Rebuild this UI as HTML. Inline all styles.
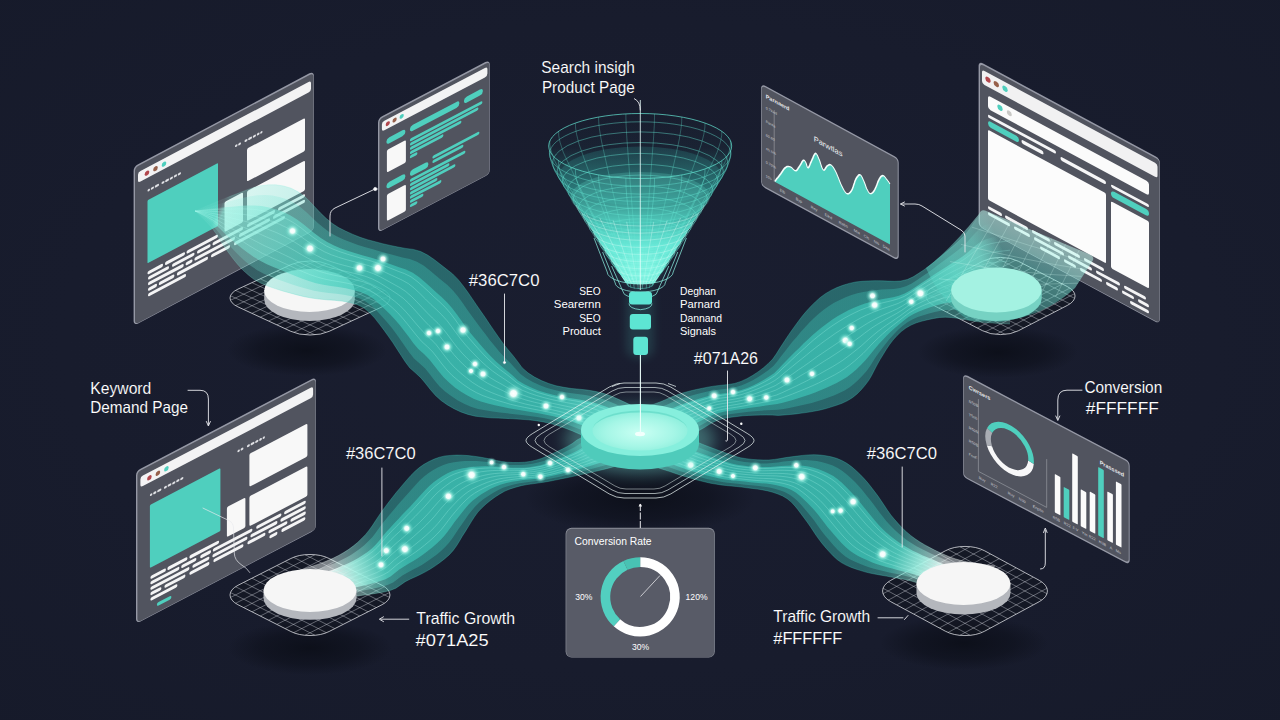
<!DOCTYPE html>
<html lang="en"><head><meta charset="utf-8"><title>Search insight funnel</title>
<style>
html,body{margin:0;padding:0;background:#181c2d;}
body{width:1280px;height:720px;overflow:hidden;font-family:"Liberation Sans",sans-serif;}
svg{display:block;}
text{font-family:"Liberation Sans",sans-serif;fill:#fff;}
.lb text{stroke:#181c2d;stroke-width:0.1px;}
.lb text.sm{stroke:none;}
</style></head><body>
<svg width="1280" height="720" viewBox="0 0 1280 720">
<defs>
<radialGradient id="vig" cx="50%" cy="48%" r="75%">
<stop offset="0" stop-color="#1a1e30"/><stop offset="0.6" stop-color="#181c2d"/><stop offset="1" stop-color="#161a2a"/>
</radialGradient>
<radialGradient id="shadow"><stop offset="0" stop-color="#0c0f19" stop-opacity="0.95"/><stop offset="0.6" stop-color="#0d101b" stop-opacity="0.6"/><stop offset="1" stop-color="#0d101b" stop-opacity="0"/></radialGradient>
<radialGradient id="dot"><stop offset="0" stop-color="#ffffff"/><stop offset="0.3" stop-color="#f6fffd" stop-opacity="0.97"/><stop offset="0.5" stop-color="#b9fbee" stop-opacity="0.6"/><stop offset="0.75" stop-color="#8df3e2" stop-opacity="0.22"/><stop offset="1" stop-color="#7ff0de" stop-opacity="0"/></radialGradient>
<radialGradient id="dish" cx="50%" cy="55%" r="60%"><stop offset="0" stop-color="#c9fff3"/><stop offset="0.6" stop-color="#a5f6e6"/><stop offset="1" stop-color="#84ecd9"/></radialGradient>
<linearGradient id="funnelfill" x1="0" y1="112" x2="0" y2="290" gradientUnits="userSpaceOnUse">
<stop offset="0" stop-color="#2fb9ab" stop-opacity="0"/><stop offset="0.2" stop-color="#2fb9ab" stop-opacity="0.04"/><stop offset="0.3" stop-color="#33c0b0" stop-opacity="0.2"/><stop offset="0.42" stop-color="#38c6b6" stop-opacity="0.42"/><stop offset="0.52" stop-color="#40cfbe" stop-opacity="0.62"/><stop offset="0.62" stop-color="#52dfcd" stop-opacity="0.85"/><stop offset="0.75" stop-color="#6cefdd" stop-opacity="0.97"/><stop offset="1" stop-color="#8cf9e8" stop-opacity="1"/>
</linearGradient>
<clipPath id="gridclip"><rect x="-1" y="-1" width="2" height="2" rx="0.42"/></clipPath>
<filter id="blur2" x="-20%" y="-20%" width="140%" height="140%"><feGaussianBlur stdDeviation="2"/></filter>
<filter id="blur4" x="-30%" y="-30%" width="160%" height="160%"><feGaussianBlur stdDeviation="4"/></filter>
<filter id="blur8" x="-40%" y="-40%" width="180%" height="180%"><feGaussianBlur stdDeviation="8"/></filter>
</defs>
<rect width="1280" height="720" fill="url(#vig)"/>
<ellipse cx="307" cy="350" rx="80" ry="26" fill="url(#shadow)"/>
<ellipse cx="998" cy="352" rx="80" ry="26" fill="url(#shadow)"/>
<ellipse cx="310" cy="648" rx="82" ry="27" fill="url(#shadow)"/>
<ellipse cx="964" cy="643" rx="84" ry="27" fill="url(#shadow)"/>
<ellipse cx="640" cy="498" rx="115" ry="36" fill="url(#shadow)"/>
<g transform="matrix(1 -0.5300 0 1 135 167.5)"><rect x="-1.4" y="-1.7" width="180.3" height="159.3" fill="#9598a5" rx="4.5"/><rect x="0" y="0" width="178.5" height="157" fill="#51545f" rx="3.5"/><rect x="3" y="6.5" width="173" height="10.5" fill="#f3f3f4" rx="2.5"/><circle cx="12" cy="12" r="2.3" fill="#b2474d"/><circle cx="20.5" cy="12" r="2.3" fill="#96604b"/><circle cx="29" cy="12" r="2.3" fill="#4fcfbe"/><rect x="12.5" y="28.7" width="2.5" height="2.3" fill="#dfe0e4" rx="1.1"/><rect x="15.8" y="28.7" width="3.2" height="2.3" fill="#dfe0e4" rx="1.1"/><rect x="19.8" y="28.7" width="4.2" height="2.3" fill="#dfe0e4" rx="1.1"/><rect x="26.5" y="28.7" width="3" height="2.3" fill="#dfe0e4" rx="1.1"/><rect x="30.2" y="28.7" width="3.8" height="2.3" fill="#dfe0e4" rx="1.1"/><rect x="34.8" y="28.7" width="3.2" height="2.3" fill="#dfe0e4" rx="1.1"/><rect x="38.8" y="28.7" width="3.2" height="2.3" fill="#dfe0e4" rx="1.1"/><rect x="42.8" y="28.7" width="3.2" height="2.3" fill="#dfe0e4" rx="1.1"/><rect x="12.5" y="39.5" width="70.5" height="63" fill="#4fcfbe" rx="1"/><rect x="100" y="30.7" width="2.5" height="2.3" fill="#dfe0e4" rx="1.1"/><rect x="103.2" y="30.7" width="2.8" height="2.3" fill="#dfe0e4" rx="1.1"/><rect x="109.5" y="30.7" width="3" height="2.3" fill="#dfe0e4" rx="1.1"/><rect x="113.2" y="30.7" width="3.8" height="2.3" fill="#dfe0e4" rx="1.1"/><rect x="117.8" y="30.7" width="3.2" height="2.3" fill="#dfe0e4" rx="1.1"/><rect x="121.8" y="30.7" width="2.7" height="2.3" fill="#dfe0e4" rx="1.1"/><rect x="125.2" y="30.7" width="2.3" height="2.3" fill="#dfe0e4" rx="1.1"/><rect x="112" y="40.5" width="58" height="33" fill="#f8f8f8" rx="1.5"/><rect x="112" y="83" width="58" height="30" fill="#f8f8f8" rx="1.5"/><rect x="89.5" y="82" width="18.5" height="30" fill="#f8f8f8" rx="1.5"/><rect x="12.5" y="110.6" width="15.5" height="3.3" fill="#f4f4f5" rx="1.6"/><rect x="30" y="110.6" width="20" height="3.3" fill="#f4f4f5" rx="1.6"/><rect x="51.5" y="110.6" width="31.5" height="3.3" fill="#f4f4f5" rx="1.6"/><rect x="13" y="116.2" width="21" height="3.3" fill="#f4f4f5" rx="1.6"/><rect x="37" y="116.2" width="22.5" height="3.3" fill="#f4f4f5" rx="1.6"/><rect x="62" y="116.2" width="13.6" height="3.3" fill="#f4f4f5" rx="1.6"/><rect x="77.5" y="116.2" width="30.5" height="3.3" fill="#f4f4f5" rx="1.6"/><rect x="112" y="116.2" width="28" height="3.3" fill="#f4f4f5" rx="1.6"/><rect x="143" y="116.2" width="27" height="3.3" fill="#f4f4f5" rx="1.6"/><rect x="13" y="121.8" width="35.7" height="3.3" fill="#f4f4f5" rx="1.6"/><rect x="50.6" y="121.8" width="6.9" height="3.3" fill="#f4f4f5" rx="1.6"/><rect x="59.4" y="121.8" width="40.6" height="3.3" fill="#f4f4f5" rx="1.6"/><rect x="104" y="121.8" width="31" height="3.3" fill="#f4f4f5" rx="1.6"/><rect x="138" y="121.8" width="32" height="3.3" fill="#f4f4f5" rx="1.6"/><rect x="13" y="127.4" width="9" height="3.3" fill="#f4f4f5" rx="1.6"/><rect x="23.8" y="127.4" width="15.6" height="3.3" fill="#f4f4f5" rx="1.6"/><rect x="41.9" y="127.4" width="31.1" height="3.3" fill="#f4f4f5" rx="1.6"/><rect x="76" y="127.4" width="19" height="3.3" fill="#f4f4f5" rx="1.6"/><rect x="99" y="127.4" width="51" height="3.3" fill="#f4f4f5" rx="1.6"/><rect x="13" y="133" width="38" height="3.3" fill="#f4f4f5" rx="1.6"/></g>
<g transform="matrix(1 -0.5236 0 1 137.4 472)"><rect x="-1.4" y="-1.7" width="180" height="152.8" fill="#9598a5" rx="4.5"/><rect x="0" y="0" width="178.2" height="150.5" fill="#51545f" rx="3.5"/><rect x="3" y="6.5" width="172.7" height="10.5" fill="#f3f3f4" rx="2.5"/><circle cx="12" cy="12" r="2.3" fill="#b2474d"/><circle cx="20.5" cy="12" r="2.3" fill="#96604b"/><circle cx="29" cy="12" r="2.3" fill="#4fcfbe"/><rect x="12.5" y="28.7" width="2.5" height="2.3" fill="#dfe0e4" rx="1.1"/><rect x="15.8" y="28.7" width="3.2" height="2.3" fill="#dfe0e4" rx="1.1"/><rect x="19.8" y="28.7" width="4.2" height="2.3" fill="#dfe0e4" rx="1.1"/><rect x="26.5" y="28.7" width="3" height="2.3" fill="#dfe0e4" rx="1.1"/><rect x="30.2" y="28.7" width="3.8" height="2.3" fill="#dfe0e4" rx="1.1"/><rect x="34.8" y="28.7" width="3.2" height="2.3" fill="#dfe0e4" rx="1.1"/><rect x="38.8" y="28.7" width="3.2" height="2.3" fill="#dfe0e4" rx="1.1"/><rect x="42.8" y="28.7" width="3.2" height="2.3" fill="#dfe0e4" rx="1.1"/><rect x="12.5" y="39.5" width="70.5" height="63" fill="#4fcfbe" rx="1"/><rect x="100" y="30.7" width="2.5" height="2.3" fill="#dfe0e4" rx="1.1"/><rect x="103.2" y="30.7" width="2.8" height="2.3" fill="#dfe0e4" rx="1.1"/><rect x="109.5" y="30.7" width="3" height="2.3" fill="#dfe0e4" rx="1.1"/><rect x="113.2" y="30.7" width="3.8" height="2.3" fill="#dfe0e4" rx="1.1"/><rect x="117.8" y="30.7" width="3.2" height="2.3" fill="#dfe0e4" rx="1.1"/><rect x="121.8" y="30.7" width="2.7" height="2.3" fill="#dfe0e4" rx="1.1"/><rect x="125.2" y="30.7" width="2.3" height="2.3" fill="#dfe0e4" rx="1.1"/><rect x="112" y="40.5" width="58" height="33" fill="#f8f8f8" rx="1.5"/><rect x="112" y="83" width="58" height="30" fill="#f8f8f8" rx="1.5"/><rect x="89.5" y="82" width="18.5" height="30" fill="#f8f8f8" rx="1.5"/><rect x="13" y="110.9" width="15.5" height="3.3" fill="#f4f4f5" rx="1.6"/><rect x="30" y="110.9" width="20" height="3.3" fill="#f4f4f5" rx="1.6"/><rect x="52" y="110.9" width="29.7" height="3.3" fill="#f4f4f5" rx="1.6"/><rect x="13" y="116.3" width="29" height="3.3" fill="#f4f4f5" rx="1.6"/><rect x="43.8" y="116.3" width="15.2" height="3.3" fill="#f4f4f5" rx="1.6"/><rect x="62.8" y="116.3" width="10.8" height="3.3" fill="#f4f4f5" rx="1.6"/><rect x="75.4" y="116.3" width="39.6" height="3.3" fill="#f4f4f5" rx="1.6"/><rect x="118.8" y="116.3" width="25.2" height="3.3" fill="#f4f4f5" rx="1.6"/><rect x="146.7" y="116.3" width="21.7" height="3.3" fill="#f4f4f5" rx="1.6"/><rect x="13" y="121.8" width="39" height="3.3" fill="#f4f4f5" rx="1.6"/><rect x="55" y="121.8" width="17" height="3.3" fill="#f4f4f5" rx="1.6"/><rect x="75" y="121.8" width="35" height="3.3" fill="#f4f4f5" rx="1.6"/><rect x="113" y="121.8" width="27" height="3.3" fill="#f4f4f5" rx="1.6"/><rect x="143" y="121.8" width="25.4" height="3.3" fill="#f4f4f5" rx="1.6"/><rect x="13" y="127.2" width="11" height="3.3" fill="#f4f4f5" rx="1.6"/><rect x="27" y="127.2" width="21" height="3.3" fill="#f4f4f5" rx="1.6"/><rect x="52" y="127.2" width="20" height="3.3" fill="#f4f4f5" rx="1.6"/><rect x="76" y="127.2" width="30" height="3.3" fill="#f4f4f5" rx="1.6"/><rect x="110" y="127.2" width="18" height="3.3" fill="#f4f4f5" rx="1.6"/><rect x="131" y="127.2" width="19" height="3.3" fill="#f4f4f5" rx="1.6"/><rect x="153" y="127.2" width="15.4" height="3.3" fill="#f4f4f5" rx="1.6"/><rect x="13" y="132.6" width="27" height="3.3" fill="#f4f4f5" rx="1.6"/><rect x="132" y="132.6" width="8" height="3.3" fill="#f4f4f5" rx="1.6"/><rect x="144" y="132.6" width="24" height="3.3" fill="#f4f4f5" rx="1.6"/><rect x="19.5" y="141.2" width="14.5" height="3.4" fill="#4fcfbe" rx="1.7"/></g>
<g transform="matrix(1 -0.5260 0 1 379.4 119.4)"><rect x="-1.4" y="-1.7" width="111.8" height="114.3" fill="#9598a5" rx="4.5"/><rect x="0" y="0" width="110" height="112" fill="#51545f" rx="3.5"/><rect x="2.5" y="4" width="105.5" height="9.5" fill="#f3f3f4" rx="2.5"/><circle cx="8.4" cy="8.7" r="2.1" fill="#b2474d"/><circle cx="15.2" cy="8.7" r="2.1" fill="#96604b"/><circle cx="22.3" cy="8.7" r="2.1" fill="#4fcfbe"/><rect x="7" y="23" width="19" height="6" fill="#4fcfbe" rx="3"/><rect x="30.5" y="23" width="49.5" height="6" fill="#4fcfbe" rx="3"/><rect x="84.5" y="23" width="19" height="6" fill="#4fcfbe" rx="3"/><rect x="7.5" y="34.5" width="19" height="22.5" fill="#f8f8f8" rx="1.5"/><rect x="30.5" y="35.5" width="72.5" height="3" fill="#4fcfbe" rx="1.5"/><rect x="30.5" y="39.7" width="68.5" height="3" fill="#4fcfbe" rx="1.5"/><rect x="30.5" y="43.9" width="51.5" height="3" fill="#4fcfbe" rx="1.5"/><rect x="30.5" y="48.1" width="33.5" height="3" fill="#4fcfbe" rx="1.5"/><rect x="30.5" y="52.3" width="7.5" height="3" fill="#4fcfbe" rx="1.5"/><rect x="7" y="67.5" width="19" height="6" fill="#4fcfbe" rx="3"/><rect x="30.5" y="67.5" width="18.5" height="6" fill="#4fcfbe" rx="3"/><rect x="53" y="64.5" width="47" height="3" fill="#4fcfbe" rx="1.5"/><rect x="53" y="69" width="31" height="3" fill="#4fcfbe" rx="1.5"/><rect x="7.5" y="79" width="19" height="26.5" fill="#f8f8f8" rx="1.5"/><rect x="30.5" y="76" width="55.5" height="3" fill="#4fcfbe" rx="1.5"/><rect x="30.5" y="80.2" width="39.5" height="3" fill="#4fcfbe" rx="1.5"/><rect x="30.5" y="84.4" width="45.5" height="3" fill="#4fcfbe" rx="1.5"/><rect x="30.5" y="88.6" width="27.5" height="3" fill="#4fcfbe" rx="1.5"/><rect x="30.5" y="92.8" width="31.5" height="3" fill="#4fcfbe" rx="1.5"/><rect x="30.5" y="97" width="13.5" height="3" fill="#4fcfbe" rx="1.5"/><rect x="30.5" y="101.2" width="7.5" height="3" fill="#4fcfbe" rx="1.5"/></g>
<g transform="matrix(1 0.5440 0 1 761.7 85.3)"><g><rect x="-0.6" y="-1.5" width="137.6" height="102.5" fill="#9598a5" rx="4.5"/><rect x="0" y="0" width="136" height="99.5" fill="#51545f" rx="3.5"/></g><path d="M13 89 L13.5 88 L14.3 86.7 L15.1 85.2 L16.1 83.5 L17.1 81.7 L18 80 L19 78.2 L20 76.2 L21 74.1 L22 72.1 L23 70.4 L24 69 L24.9 68 L25.7 67.3 L26.6 66.8 L27.4 66.4 L28.2 66.2 L29 66 L29.8 66 L30.7 66.3 L31.6 66.8 L32.4 67.1 L33.2 67.2 L34 67 L34.7 66.3 L35.4 65.3 L36.1 64 L36.7 62.7 L37.4 61.3 L38 60 L38.6 58.7 L39.3 57.2 L39.9 55.7 L40.5 54.3 L41.1 53.2 L41.6 52.4 L42.1 52 L42.5 51.9 L42.9 52 L43.2 52.2 L43.6 52.6 L44 53 L44.4 53.7 L44.8 54.7 L45.1 55.8 L45.5 56.7 L45.9 57.3 L46.4 57.3 L46.9 56.5 L47.5 55.2 L48.1 53.5 L48.7 51.6 L49.4 49.7 L50 48 L50.6 46.3 L51.3 44.4 L51.9 42.5 L52.6 40.8 L53.3 39.5 L53.9 38.7 L54.5 38.6 L55.1 39 L55.7 39.8 L56.3 40.8 L56.9 41.9 L57.5 43 L58.2 44.3 L58.8 46 L59.5 47.8 L60.2 49.4 L60.9 50.6 L61.6 51.2 L62.3 51 L62.9 50.1 L63.6 48.8 L64.2 47.4 L64.9 46 L65.5 45 L66.1 44.2 L66.8 43.5 L67.4 42.8 L68 42.3 L68.7 42 L69.4 41.9 L70.1 42.1 L70.8 42.5 L71.6 43.1 L72.3 43.9 L73.1 44.8 L74 46 L74.9 47.5 L75.9 49.4 L77 51.4 L78 53.5 L79 55.4 L80 57 L80.9 58.3 L81.8 59.5 L82.7 60.6 L83.5 61.4 L84.4 61.9 L85.2 62 L86 61.7 L86.9 61.1 L87.7 60.1 L88.5 58.9 L89.3 57.5 L90 56 L90.7 54.2 L91.4 52 L92 49.6 L92.7 47.2 L93.3 44.9 L94 43 L94.7 41.3 L95.4 39.8 L96.2 38.4 L96.9 37.2 L97.6 36.4 L98.3 35.9 L99 35.9 L99.6 36.3 L100.2 37.1 L100.8 38 L101.4 39 L102 40 L102.6 41.1 L103.2 42.3 L103.8 43.6 L104.3 44.9 L104.9 46.1 L105.5 47 L106.1 47.7 L106.6 48.4 L107.2 48.9 L107.7 49.2 L108.3 49.3 L108.9 49.1 L109.5 48.6 L110.2 47.9 L110.9 47 L111.6 45.8 L112.3 44.5 L113 43 L113.7 41.1 L114.5 38.9 L115.3 36.5 L116 34 L116.8 31.8 L117.5 30 L118.2 28.5 L118.8 27.3 L119.4 26.2 L120.1 25.4 L120.7 24.7 L121.3 24.3 L121.9 24.1 L122.6 24.3 L123.2 24.6 L123.8 25.1 L124.4 25.6 L125 26 L125.6 26.4 L126.3 27 L126.9 27.5 L127.5 28 L127.9 28.5 L128.3 28.8 L128.3 89.5 L13 89.5Z" fill="#4fcfbe"/><path d="M13 89 L13.5 88 L14.3 86.7 L15.1 85.2 L16.1 83.5 L17.1 81.7 L18 80 L19 78.2 L20 76.2 L21 74.1 L22 72.1 L23 70.4 L24 69 L24.9 68 L25.7 67.3 L26.6 66.8 L27.4 66.4 L28.2 66.2 L29 66 L29.8 66 L30.7 66.3 L31.6 66.8 L32.4 67.1 L33.2 67.2 L34 67 L34.7 66.3 L35.4 65.3 L36.1 64 L36.7 62.7 L37.4 61.3 L38 60 L38.6 58.7 L39.3 57.2 L39.9 55.7 L40.5 54.3 L41.1 53.2 L41.6 52.4 L42.1 52 L42.5 51.9 L42.9 52 L43.2 52.2 L43.6 52.6 L44 53 L44.4 53.7 L44.8 54.7 L45.1 55.8 L45.5 56.7 L45.9 57.3 L46.4 57.3 L46.9 56.5 L47.5 55.2 L48.1 53.5 L48.7 51.6 L49.4 49.7 L50 48 L50.6 46.3 L51.3 44.4 L51.9 42.5 L52.6 40.8 L53.3 39.5 L53.9 38.7 L54.5 38.6 L55.1 39 L55.7 39.8 L56.3 40.8 L56.9 41.9 L57.5 43 L58.2 44.3 L58.8 46 L59.5 47.8 L60.2 49.4 L60.9 50.6 L61.6 51.2 L62.3 51 L62.9 50.1 L63.6 48.8 L64.2 47.4 L64.9 46 L65.5 45 L66.1 44.2 L66.8 43.5 L67.4 42.8 L68 42.3 L68.7 42 L69.4 41.9 L70.1 42.1 L70.8 42.5 L71.6 43.1 L72.3 43.9 L73.1 44.8 L74 46 L74.9 47.5 L75.9 49.4 L77 51.4 L78 53.5 L79 55.4 L80 57 L80.9 58.3 L81.8 59.5 L82.7 60.6 L83.5 61.4 L84.4 61.9 L85.2 62 L86 61.7 L86.9 61.1 L87.7 60.1 L88.5 58.9 L89.3 57.5 L90 56 L90.7 54.2 L91.4 52 L92 49.6 L92.7 47.2 L93.3 44.9 L94 43 L94.7 41.3 L95.4 39.8 L96.2 38.4 L96.9 37.2 L97.6 36.4 L98.3 35.9 L99 35.9 L99.6 36.3 L100.2 37.1 L100.8 38 L101.4 39 L102 40 L102.6 41.1 L103.2 42.3 L103.8 43.6 L104.3 44.9 L104.9 46.1 L105.5 47 L106.1 47.7 L106.6 48.4 L107.2 48.9 L107.7 49.2 L108.3 49.3 L108.9 49.1 L109.5 48.6 L110.2 47.9 L110.9 47 L111.6 45.8 L112.3 44.5 L113 43 L113.7 41.1 L114.5 38.9 L115.3 36.5 L116 34 L116.8 31.8 L117.5 30 L118.2 28.5 L118.8 27.3 L119.4 26.2 L120.1 25.4 L120.7 24.7 L121.3 24.3 L121.9 24.1 L122.6 24.3 L123.2 24.6 L123.8 25.1 L124.4 25.6 L125 26 L125.6 26.4 L126.3 27 L126.9 27.5 L127.5 28 L127.9 28.5 L128.3 28.8" fill="none" stroke="#f4fffc" stroke-width="1.3" stroke-linejoin="round"/><path d="M12.5 18V89.5" stroke="#8d9098" stroke-width="0.7" fill="none"/><text x="4" y="10.5" font-size="5.5" font-weight="bold" style="fill:#e8e9ec">Parnaerd</text><text x="52" y="27.5" font-size="7.5" style="fill:#f4f4f6">Parwtlas</text><text x="4" y="21.5" font-size="3.6" style="fill:#c9cbd1">0.7kwd</text><text x="4" y="35.1" font-size="3.6" style="fill:#c9cbd1">Parda</text><text x="4" y="48.7" font-size="3.6" style="fill:#c9cbd1">60.60</text><text x="4" y="62.3" font-size="3.6" style="fill:#c9cbd1">45.5%</text><text x="4" y="75.9" font-size="3.6" style="fill:#c9cbd1">0.70%</text><text x="4" y="89.5" font-size="3.6" style="fill:#c9cbd1">10s</text><text x="18" y="96" font-size="3.8" style="fill:#c9cbd1">Elb</text><text x="34" y="96" font-size="3.8" style="fill:#c9cbd1">Byp</text><text x="49" y="96" font-size="3.8" style="fill:#c9cbd1">Rey</text><text x="63" y="96" font-size="3.8" style="fill:#c9cbd1">Eikd</text><text x="77" y="96" font-size="3.8" style="fill:#c9cbd1">Rebo</text><text x="92" y="96" font-size="3.8" style="fill:#c9cbd1">Mia</text><text x="102" y="96" font-size="3.8" style="fill:#c9cbd1">Cls</text><text x="112" y="96" font-size="3.8" style="fill:#c9cbd1">Nis</text><text x="121" y="96" font-size="3.8" style="fill:#c9cbd1">Daa</text></g>
<g transform="matrix(1 0.5390 0 1 980 63.5)"><rect x="-1.4" y="-1.7" width="181.3" height="165.3" fill="#9598a5" rx="4.5"/><rect x="0" y="0" width="179.5" height="163" fill="#51545f" rx="3.5"/><rect x="2" y="5" width="175.5" height="14" fill="#f1f1f2" rx="2.5"/><circle cx="8" cy="11.8" r="2.7" fill="#b2474d"/><circle cx="16.3" cy="11.8" r="2.7" fill="#96604b"/><circle cx="25" cy="11.8" r="2.7" fill="#4fcfbe"/><rect x="8" y="27.5" width="161" height="13.5" fill="#fbfbfb" rx="2.5"/><circle cx="20" cy="33.5" r="2.7" fill="#4fcfbe"/><circle cx="29.3" cy="34" r="2.5" fill="#c9c9c6"/><rect x="8" y="46.5" width="68" height="3.2" fill="#f6f6f7" rx="1.6"/><rect x="8" y="52.5" width="31" height="6" fill="#4fcfbe" rx="3"/><rect x="41.5" y="53.5" width="22" height="3.8" fill="#f6f6f7" rx="1.9"/><rect x="80.5" y="49.5" width="45.5" height="3.8" fill="#f6f6f7" rx="1.9"/><rect x="8" y="62" width="118" height="70" fill="#fcfcfc" rx="1.5"/><rect x="131" y="50" width="38" height="3" fill="#f6f6f7" rx="1.5"/><rect x="131" y="56" width="38" height="6.5" fill="#4fcfbe" rx="3.2"/><rect x="131" y="67" width="38" height="67" fill="#fcfcfc" rx="1.5"/><rect x="8" y="138" width="14" height="3.2" fill="#f4f4f5" rx="1.6"/><rect x="25" y="138" width="23" height="3.2" fill="#f4f4f5" rx="1.6"/><rect x="52" y="138" width="18" height="3.2" fill="#f4f4f5" rx="1.6"/><rect x="74" y="138" width="26" height="3.2" fill="#f4f4f5" rx="1.6"/><rect x="104" y="138" width="20" height="3.2" fill="#f4f4f5" rx="1.6"/><rect x="8" y="144" width="22" height="3.2" fill="#f4f4f5" rx="1.6"/><rect x="34" y="144" width="16" height="3.2" fill="#f4f4f5" rx="1.6"/><rect x="54" y="144" width="30" height="3.2" fill="#f4f4f5" rx="1.6"/><rect x="88" y="144" width="24" height="3.2" fill="#f4f4f5" rx="1.6"/><rect x="116" y="144" width="24" height="3.2" fill="#f4f4f5" rx="1.6"/><rect x="144" y="144" width="22" height="3.2" fill="#f4f4f5" rx="1.6"/><rect x="60" y="150" width="20" height="3.2" fill="#f4f4f5" rx="1.6"/><rect x="84" y="150" width="12" height="3.2" fill="#f4f4f5" rx="1.6"/><rect x="100" y="150" width="22" height="3.2" fill="#f4f4f5" rx="1.6"/><rect x="126" y="150" width="12" height="3.2" fill="#f4f4f5" rx="1.6"/><rect x="142" y="150" width="12" height="3.2" fill="#f4f4f5" rx="1.6"/><rect x="158" y="150" width="11" height="3.2" fill="#f4f4f5" rx="1.6"/><rect x="150" y="156" width="19" height="3.2" fill="#f4f4f5" rx="1.6"/></g>
<g transform="matrix(1 0.5280 0 1 963.7 375.3)"><g><rect x="-0.6" y="-1.5" width="166.6" height="103.5" fill="#9598a5" rx="4.5"/><rect x="0" y="0" width="165" height="100.5" fill="#51545f" rx="3.5"/></g><path d="M14.7 16V88.3H83V40" stroke="#8d9098" stroke-width="0.7" fill="none"/><path d="M67.3 51.4 A21.5 21.5 0 0 1 25.7 56.9" fill="none" stroke="#f7f7f8" stroke-width="5.6"/><path d="M25.7 56.9 A21.5 21.5 0 0 1 26 41.4" fill="none" stroke="#a9acb3" stroke-width="5.6"/><path d="M26 41.4 A21.5 21.5 0 0 1 67.3 51.4" fill="none" stroke="#4fcfbe" stroke-width="5.6"/><rect x="91.1" y="50.6" width="5.6" height="38.4" fill="#fbfbfb" rx="0.6"/><rect x="100" y="58.8" width="5.6" height="30.2" fill="#4fcfbe" rx="0.6"/><rect x="108.5" y="20.7" width="5.6" height="68.3" fill="#fbfbfb" rx="0.6"/><rect x="117" y="52.2" width="5.6" height="36.8" fill="#fbfbfb" rx="0.6"/><rect x="126" y="49.7" width="5.6" height="39.3" fill="#fbfbfb" rx="0.6"/><rect x="134.5" y="20.7" width="5.6" height="68.3" fill="#4fcfbe" rx="0.6"/><rect x="143.6" y="40.3" width="5.6" height="48.7" fill="#fbfbfb" rx="0.6"/><rect x="152.2" y="25.7" width="5.6" height="63.3" fill="#fbfbfb" rx="0.6"/><text x="5" y="11" font-size="5.5" font-weight="bold" style="fill:#e8e9ec">Cwrsers</text><text x="136" y="17" font-size="5.5" font-weight="bold" style="fill:#e8e9ec">Prasssed</text><text x="5" y="24.5" font-size="3.8" style="fill:#c9cbd1">R50B</text><text x="5" y="37.7" font-size="3.8" style="fill:#c9cbd1">T5nb</text><text x="5" y="50.9" font-size="3.8" style="fill:#c9cbd1">R50R</text><text x="5" y="64.1" font-size="3.8" style="fill:#c9cbd1">R50B</text><text x="5" y="77.3" font-size="3.8" style="fill:#c9cbd1">FsoF</text><text x="15" y="95.5" font-size="3.8" style="fill:#c9cbd1">Ruy</text><text x="27" y="95.5" font-size="3.8" style="fill:#c9cbd1">R22</text><text x="44" y="95.5" font-size="3.8" style="fill:#c9cbd1">Ruy</text><text x="55" y="95.5" font-size="3.8" style="fill:#c9cbd1">N30</text><text x="69" y="95.5" font-size="3.8" style="fill:#c9cbd1">Enpbe</text><text x="89" y="96" font-size="3.8" style="fill:#c9cbd1">R5B</text><text x="100" y="96" font-size="3.8" style="fill:#c9cbd1">R22</text><text x="109" y="96" font-size="3.8" style="fill:#c9cbd1">F.V</text><text x="118" y="96" font-size="3.8" style="fill:#c9cbd1">Ym</text><text x="125" y="96" font-size="3.8" style="fill:#c9cbd1">R22</text><text x="135" y="96" font-size="3.8" style="fill:#c9cbd1">H3B</text><text x="146" y="96" font-size="3.8" style="fill:#c9cbd1">A</text><text x="152" y="96" font-size="3.8" style="fill:#c9cbd1">Mo</text></g>
<g transform="matrix(45.6 21.1 -45.6 21.1 310 298)"><rect x="-1" y="-1" width="2" height="2" rx="0.42" fill="#12151f" fill-opacity="0.55"/><g clip-path="url(#gridclip)" stroke="#e6e8ee" stroke-opacity="0.55" stroke-width="0.7" fill="none"><path d="M-0.8182 -1V1M-1 -0.8182H1" vector-effect="non-scaling-stroke"/><path d="M-0.6364 -1V1M-1 -0.6364H1" vector-effect="non-scaling-stroke"/><path d="M-0.4545 -1V1M-1 -0.4545H1" vector-effect="non-scaling-stroke"/><path d="M-0.2727 -1V1M-1 -0.2727H1" vector-effect="non-scaling-stroke"/><path d="M-0.0909 -1V1M-1 -0.0909H1" vector-effect="non-scaling-stroke"/><path d="M0.0909 -1V1M-1 0.0909H1" vector-effect="non-scaling-stroke"/><path d="M0.2727 -1V1M-1 0.2727H1" vector-effect="non-scaling-stroke"/><path d="M0.4545 -1V1M-1 0.4545H1" vector-effect="non-scaling-stroke"/><path d="M0.6364 -1V1M-1 0.6364H1" vector-effect="non-scaling-stroke"/><path d="M0.8182 -1V1M-1 0.8182H1" vector-effect="non-scaling-stroke"/></g><rect x="-1" y="-1" width="2" height="2" rx="0.42" fill="none" stroke="#eef0f4" stroke-opacity="0.8" stroke-width="0.9" vector-effect="non-scaling-stroke"/></g>
<g transform="matrix(42.5 22 -42.5 22 1000.5 296)"><rect x="-1" y="-1" width="2" height="2" rx="0.42" fill="#12151f" fill-opacity="0.55"/><g clip-path="url(#gridclip)" stroke="#e6e8ee" stroke-opacity="0.55" stroke-width="0.7" fill="none"><path d="M-0.8182 -1V1M-1 -0.8182H1" vector-effect="non-scaling-stroke"/><path d="M-0.6364 -1V1M-1 -0.6364H1" vector-effect="non-scaling-stroke"/><path d="M-0.4545 -1V1M-1 -0.4545H1" vector-effect="non-scaling-stroke"/><path d="M-0.2727 -1V1M-1 -0.2727H1" vector-effect="non-scaling-stroke"/><path d="M-0.0909 -1V1M-1 -0.0909H1" vector-effect="non-scaling-stroke"/><path d="M0.0909 -1V1M-1 0.0909H1" vector-effect="non-scaling-stroke"/><path d="M0.2727 -1V1M-1 0.2727H1" vector-effect="non-scaling-stroke"/><path d="M0.4545 -1V1M-1 0.4545H1" vector-effect="non-scaling-stroke"/><path d="M0.6364 -1V1M-1 0.6364H1" vector-effect="non-scaling-stroke"/><path d="M0.8182 -1V1M-1 0.8182H1" vector-effect="non-scaling-stroke"/></g><rect x="-1" y="-1" width="2" height="2" rx="0.42" fill="none" stroke="#eef0f4" stroke-opacity="0.8" stroke-width="0.9" vector-effect="non-scaling-stroke"/></g>
<g transform="matrix(45.6 23.1 -45.6 23.1 310 595)"><rect x="-1" y="-1" width="2" height="2" rx="0.42" fill="#12151f" fill-opacity="0.55"/><g clip-path="url(#gridclip)" stroke="#e6e8ee" stroke-opacity="0.55" stroke-width="0.7" fill="none"><path d="M-0.8182 -1V1M-1 -0.8182H1" vector-effect="non-scaling-stroke"/><path d="M-0.6364 -1V1M-1 -0.6364H1" vector-effect="non-scaling-stroke"/><path d="M-0.4545 -1V1M-1 -0.4545H1" vector-effect="non-scaling-stroke"/><path d="M-0.2727 -1V1M-1 -0.2727H1" vector-effect="non-scaling-stroke"/><path d="M-0.0909 -1V1M-1 -0.0909H1" vector-effect="non-scaling-stroke"/><path d="M0.0909 -1V1M-1 0.0909H1" vector-effect="non-scaling-stroke"/><path d="M0.2727 -1V1M-1 0.2727H1" vector-effect="non-scaling-stroke"/><path d="M0.4545 -1V1M-1 0.4545H1" vector-effect="non-scaling-stroke"/><path d="M0.6364 -1V1M-1 0.6364H1" vector-effect="non-scaling-stroke"/><path d="M0.8182 -1V1M-1 0.8182H1" vector-effect="non-scaling-stroke"/></g><rect x="-1" y="-1" width="2" height="2" rx="0.42" fill="none" stroke="#eef0f4" stroke-opacity="0.8" stroke-width="0.9" vector-effect="non-scaling-stroke"/></g>
<g transform="matrix(47 25.4 -47 25.4 965 591)"><rect x="-1" y="-1" width="2" height="2" rx="0.42" fill="#12151f" fill-opacity="0.55"/><g clip-path="url(#gridclip)" stroke="#e6e8ee" stroke-opacity="0.55" stroke-width="0.7" fill="none"><path d="M-0.8182 -1V1M-1 -0.8182H1" vector-effect="non-scaling-stroke"/><path d="M-0.6364 -1V1M-1 -0.6364H1" vector-effect="non-scaling-stroke"/><path d="M-0.4545 -1V1M-1 -0.4545H1" vector-effect="non-scaling-stroke"/><path d="M-0.2727 -1V1M-1 -0.2727H1" vector-effect="non-scaling-stroke"/><path d="M-0.0909 -1V1M-1 -0.0909H1" vector-effect="non-scaling-stroke"/><path d="M0.0909 -1V1M-1 0.0909H1" vector-effect="non-scaling-stroke"/><path d="M0.2727 -1V1M-1 0.2727H1" vector-effect="non-scaling-stroke"/><path d="M0.4545 -1V1M-1 0.4545H1" vector-effect="non-scaling-stroke"/><path d="M0.6364 -1V1M-1 0.6364H1" vector-effect="non-scaling-stroke"/><path d="M0.8182 -1V1M-1 0.8182H1" vector-effect="non-scaling-stroke"/></g><rect x="-1" y="-1" width="2" height="2" rx="0.42" fill="none" stroke="#eef0f4" stroke-opacity="0.8" stroke-width="0.9" vector-effect="non-scaling-stroke"/></g>
<linearGradient id="gtr" gradientUnits="userSpaceOnUse" x1="1010" y1="266" x2="640" y2="430"><stop offset="0" stop-color="#8ff0df" stop-opacity="0"/><stop offset="0.06" stop-color="#86ecdb" stop-opacity="0.6"/><stop offset="0.13" stop-color="#66dfce" stop-opacity="0.9"/><stop offset="0.28" stop-color="#3dc1b4" stop-opacity="1"/><stop offset="0.8" stop-color="#3bbfb3" stop-opacity="1"/><stop offset="1" stop-color="#72eedc" stop-opacity="1"/></linearGradient><path d="M1010 205 L1003.6 206.3 L997.3 207.7 L991 209.4 L985 211.8 L979.8 215.7 L975.5 220.6 L971.7 225.9 L968 231.2 L963.8 236.2 L959.2 240.7 L954.3 245.1 L949.4 249.3 L944.4 253.5 L939.4 257.6 L934.4 261.8 L929.3 265.8 L924.1 269.7 L918.7 273.3 L913.2 276.8 L907.3 279.5 L900.9 281 L894.5 281.3 L888 281.1 L881.5 280.8 L875 280.7 L868.5 280.9 L862 281.3 L855.5 282 L849.2 283.4 L842.9 285.3 L836.9 287.6 L831 290.4 L825.4 293.7 L820.2 297.6 L815.3 301.9 L810.7 306.5 L806.3 311.3 L802.1 316.3 L798.2 321.5 L794.4 326.7 L790.6 332 L786.9 337.4 L783.4 342.8 L779.8 348.3 L776.4 353.8 L772.7 359.1 L768.1 363.7 L763.2 368 L758 371.9 L752.5 375.5 L746.9 378.7 L741 381.4 L734.8 383.4 L728.4 384.5 L721.9 385.2 L715.5 385.9 L709 386.9 L702.7 388.2 L696.3 389.5 L690 391 L683.7 392.7 L677.5 394.7 L671.5 397.1 L665.5 399.7 L659.5 402.2 L653.4 404.4 L647.3 406.6 L641.1 408.8 L635 411 L650 452 L655.5 449.8 L661 447.7 L666.5 445.5 L672 443.3 L677.5 441.1 L682.9 438.7 L688.2 436.1 L693.5 433.4 L698.7 430.7 L703.9 427.8 L708.9 424.6 L714 421.7 L719.6 419.6 L725.3 418.2 L731.1 417.2 L737 416.5 L742.9 415.8 L748.8 415.4 L754.7 415.2 L760.6 415.1 L766.5 415 L772.4 415.1 L778.3 415.4 L784.2 415 L790.1 414.5 L796 413.9 L801.9 413.1 L807.7 412.3 L813.6 411.3 L819.4 410.2 L825.1 408.8 L830.8 407.1 L836.4 405.3 L842 403.3 L847.3 400.8 L852.4 397.7 L857 394 L861.2 389.8 L865 385.3 L868.6 380.6 L871.6 375.5 L874.3 370.2 L877 365 L879.9 359.8 L883 354.8 L886.1 349.7 L889.4 344.8 L893 340.1 L896.9 335.7 L901.2 331.6 L905.9 328 L911 325.1 L916.4 322.8 L922.1 321.1 L927.8 319.7 L933.6 318.5 L939.5 317.5 L945.4 317.2 L951.3 317.5 L957.2 318.2 L963 319.2 L968.8 320.2 L974.6 321.3 L980.5 322 L986.4 322.6 L992.3 323 L998.2 323.4 L1004.1 323.7 L1010 324Z" fill="url(#gtr)" fill-opacity="0.45"/><path d="M1010 219.3 L1003.7 220.4 L997.4 221.5 L991.2 223 L985.2 225.1 L979.9 228.5 L975.4 232.7 L971.4 237.2 L967.4 241.7 L963 246 L958.2 249.9 L953.3 253.7 L948.2 257.5 L943.1 261.3 L938 265.1 L932.9 268.9 L927.8 272.7 L922.5 276.3 L917.1 279.9 L911.7 283.4 L906 286.2 L900 288.1 L893.8 288.9 L887.7 289.3 L881.6 289.6 L875.6 290.2 L869.5 291 L863.4 292 L857.4 293.2 L851.5 295.1 L845.6 297.3 L839.8 299.9 L834.1 302.8 L828.6 306.2 L823.4 310 L818.5 314.1 L813.8 318.3 L809.2 322.8 L804.9 327.4 L800.7 332.1 L796.7 336.9 L792.6 341.6 L788.7 346.5 L784.9 351.4 L781.1 356.2 L777.4 361.2 L773.4 365.9 L768.6 369.9 L763.6 373.6 L758.3 377.1 L752.8 380.2 L747.1 383.1 L741.2 385.5 L735 387.3 L728.7 388.5 L722.3 389.2 L715.9 389.9 L709.6 391.1 L703.4 392.5 L697.2 394.1 L691 395.8 L684.9 397.6 L678.8 399.7 L672.8 402.1 L666.9 404.7 L661 407.1 L655 409.4 L648.9 411.6 L642.9 413.7 L636.8 415.9 L648.5 447.9 L654.1 445.7 L659.6 443.6 L665.2 441.4 L670.8 439.2 L676.3 436.9 L681.8 434.5 L687.2 432 L692.5 429.4 L697.8 426.7 L703.1 423.9 L708.3 421 L713.5 418.2 L719.1 416.2 L725 414.9 L730.9 414 L736.8 413.2 L742.7 412.4 L748.6 411.7 L754.5 411.2 L760.3 410.7 L766.2 410.3 L772 410 L777.8 409.8 L783.5 408.9 L789.1 407.9 L794.8 406.8 L800.4 405.6 L806 404.2 L811.7 402.9 L817.3 401.3 L822.8 399.5 L828.3 397.5 L833.9 395.4 L839.3 393.1 L844.6 390.5 L849.7 387.3 L854.4 383.6 L858.7 379.6 L862.8 375.3 L866.6 370.9 L870 366.2 L873.1 361.3 L876.1 356.6 L879.4 351.9 L882.8 347.4 L886.3 342.9 L889.9 338.5 L893.8 334.2 L897.9 330.1 L902.4 326.1 L907.1 322.5 L912.3 319.5 L917.7 317.1 L923.3 315.2 L929 313.5 L934.7 312 L940.5 310.7 L946.3 310 L952.1 309.8 L957.8 310 L963.5 310.4 L969.1 310.8 L974.7 311.2 L980.4 311.4 L986.2 311.5 L992.2 311.6 L998.1 311.8 L1004 311.9 L1010 312.1Z" fill="url(#gtr)" fill-opacity="0.36"/><path d="M1010 234.8 L1003.8 235.7 L997.5 236.6 L991.3 237.8 L985.3 239.5 L980 242.3 L975.3 245.7 L971 249.5 L966.7 253.2 L962.2 256.7 L957.2 259.9 L952.1 263.1 L946.9 266.4 L941.7 269.7 L936.5 273.1 L931.3 276.6 L926.1 280.1 L920.8 283.5 L915.5 287 L910.2 290.5 L904.7 293.6 L898.9 295.8 L893.2 297.2 L887.5 298.3 L881.8 299.3 L876.2 300.5 L870.6 301.9 L865 303.5 L859.5 305.4 L854 307.7 L848.4 310.3 L842.9 313.2 L837.5 316.3 L832.1 319.7 L827 323.4 L822 327.2 L817.1 331.2 L812.4 335.2 L807.9 339.4 L803.5 343.6 L799.2 347.9 L794.9 352.1 L790.7 356.3 L786.5 360.6 L782.4 364.8 L778.4 369.1 L774.1 373.2 L769.2 376.6 L764 379.7 L758.6 382.7 L753.1 385.4 L747.4 387.9 L741.4 390 L735.3 391.6 L729.1 392.7 L722.8 393.5 L716.5 394.3 L710.3 395.6 L704.2 397.3 L698.2 399.1 L692.2 400.9 L686.1 402.9 L680.2 405.1 L674.3 407.5 L668.5 410.1 L662.6 412.5 L656.7 414.7 L650.7 416.9 L644.7 419.1 L638.8 421.2 L647 443.8 L652.6 441.6 L658.3 439.5 L663.9 437.3 L669.5 435.1 L675.1 432.8 L680.6 430.4 L686.1 427.9 L691.5 425.3 L697 422.7 L702.4 420.1 L707.6 417.3 L713 414.8 L718.7 412.9 L724.6 411.6 L730.6 410.7 L736.6 409.8 L742.5 408.9 L748.4 408 L754.3 407.2 L760.1 406.4 L765.8 405.6 L771.6 404.8 L777.2 404.1 L782.7 402.8 L788.1 401.3 L793.5 399.7 L798.9 398 L804.3 396.2 L809.7 394.4 L815.1 392.4 L820.5 390.3 L825.9 387.9 L831.3 385.5 L836.6 383 L841.9 380.1 L847 376.9 L851.8 373.3 L856.3 369.4 L860.6 365.3 L864.7 361.1 L868.4 356.8 L871.8 352.4 L875.3 348.2 L878.9 344 L882.7 340 L886.4 336 L890.4 332.1 L894.6 328.3 L899 324.5 L903.6 320.7 L908.4 317.1 L913.6 314 L919 311.4 L924.6 309.2 L930.2 307.3 L935.8 305.5 L941.5 303.9 L947.2 302.8 L952.9 302.1 L958.5 301.8 L964 301.6 L969.4 301.4 L974.8 301.1 L980.3 300.8 L986.1 300.4 L992 300.3 L998 300.2 L1004 300.2 L1010 300.2Z" fill="url(#gtr)" fill-opacity="0.74"/><g fill="none" stroke="url(#gtr)" stroke-width="0.8" stroke-opacity="0.4"><path d="M1010 205 L1003.6 206.3 L997.3 207.7 L991 209.4 L985 211.8 L979.8 215.7 L975.5 220.6 L971.7 225.9 L968 231.2 L963.8 236.2 L959.2 240.7 L954.3 245.1 L949.4 249.3 L944.4 253.5 L939.4 257.6 L934.4 261.8 L929.3 265.8 L924.1 269.7 L918.7 273.3 L913.2 276.8 L907.3 279.5 L900.9 281 L894.5 281.3 L888 281.1 L881.5 280.8 L875 280.7 L868.5 280.9 L862 281.3 L855.5 282 L849.2 283.4 L842.9 285.3 L836.9 287.6 L831 290.4 L825.4 293.7 L820.2 297.6 L815.3 301.9 L810.7 306.5 L806.3 311.3 L802.1 316.3 L798.2 321.5 L794.4 326.7 L790.6 332 L786.9 337.4 L783.4 342.8 L779.8 348.3 L776.4 353.8 L772.7 359.1 L768.1 363.7 L763.2 368 L758 371.9 L752.5 375.5 L746.9 378.7 L741 381.4 L734.8 383.4 L728.4 384.5 L721.9 385.2 L715.5 385.9 L709 386.9 L702.7 388.2 L696.3 389.5 L690 391 L683.7 392.7 L677.5 394.7 L671.5 397.1 L665.5 399.7 L659.5 402.2 L653.4 404.4 L647.3 406.6 L641.1 408.8 L635 411"/><path d="M1010 324 L1004.1 323.7 L998.2 323.4 L992.3 323 L986.4 322.6 L980.5 322 L974.6 321.3 L968.8 320.2 L963 319.2 L957.2 318.2 L951.3 317.5 L945.4 317.2 L939.5 317.5 L933.6 318.5 L927.8 319.7 L922.1 321.1 L916.4 322.8 L911 325.1 L905.9 328 L901.2 331.6 L896.9 335.7 L893 340.1 L889.4 344.8 L886.1 349.7 L883 354.8 L879.9 359.8 L877 365 L874.3 370.2 L871.6 375.5 L868.6 380.6 L865 385.3 L861.2 389.8 L857 394 L852.4 397.7 L847.3 400.8 L842 403.3 L836.4 405.3 L830.8 407.1 L825.1 408.8 L819.4 410.2 L813.6 411.3 L807.7 412.3 L801.9 413.1 L796 413.9 L790.1 414.5 L784.2 415 L778.3 415.4 L772.4 415.1 L766.5 415 L760.6 415.1 L754.7 415.2 L748.8 415.4 L742.9 415.8 L737 416.5 L731.1 417.2 L725.3 418.2 L719.6 419.6 L714 421.7 L708.9 424.6 L703.9 427.8 L698.7 430.7 L693.5 433.4 L688.2 436.1 L682.9 438.7 L677.5 441.1 L672 443.3 L666.5 445.5 L661 447.7 L655.5 449.8 L650 452"/></g><g fill="none" stroke="#b5fff3" stroke-width="0.7" stroke-opacity="0.36"><path d="M1010 240.7 L1003.8 241.5 L997.5 242.4 L991.4 243.5 L985.4 245.1 L980 247.6 L975.2 250.8 L970.8 254.2 L966.5 257.6 L961.8 260.8 L956.8 263.8 L951.7 266.7 L946.4 269.8 L941.2 273 L935.9 276.2 L930.7 279.6 L925.4 282.9 L920.1 286.3 L914.8 289.7 L909.6 293.2 L904.2 296.4 L898.5 298.7 L892.9 300.4 L887.4 301.7 L881.9 303 L876.4 304.4 L871 306.1 L865.7 308 L860.3 310.1 L855 312.6 L849.6 315.3 L844.1 318.3 L838.8 321.5 L833.5 324.9 L828.3 328.5 L823.3 332.3 L818.4 336.1 L813.6 340 L809 344 L804.6 348.1 L800.1 352.1 L795.7 356.1 L791.4 360.1 L787.2 364.2 L782.9 368.1 L778.8 372.2 L774.4 376 L769.4 379.2 L764.2 382.1 L758.8 384.8 L753.2 387.4 L747.5 389.7 L741.5 391.7 L735.4 393.3 L729.2 394.3 L722.9 395.1 L716.7 396 L710.5 397.3 L704.5 399.1 L698.6 401 L692.6 402.9 L686.6 404.9 L680.7 407.1 L674.9 409.6 L669.1 412.1 L663.2 414.5 L657.3 416.8 L651.4 419 L645.4 421.1 L639.5 423.3"/><path d="M1010 250.2 L1003.8 250.9 L997.6 251.6 L991.5 252.6 L985.5 253.9 L980 256.1 L975.2 258.8 L970.6 261.7 L966.1 264.6 L961.3 267.3 L956.2 269.9 L950.9 272.5 L945.6 275.2 L940.3 278.2 L935 281.2 L929.7 284.3 L924.4 287.5 L919.1 290.7 L913.8 294.1 L908.6 297.6 L903.3 300.9 L897.9 303.5 L892.5 305.4 L887.2 307.2 L882 308.9 L876.8 310.8 L871.7 312.9 L866.6 315.1 L861.6 317.5 L856.5 320.3 L851.3 323.3 L846.1 326.5 L840.9 329.8 L835.6 333.2 L830.5 336.8 L825.4 340.4 L820.5 344 L815.6 347.7 L810.9 351.4 L806.3 355.2 L801.7 358.9 L797.1 362.5 L792.6 366.2 L788.2 369.8 L783.7 373.4 L779.4 377.1 L774.8 380.5 L769.8 383.3 L764.4 385.8 L759 388.3 L753.4 390.5 L747.6 392.6 L741.7 394.5 L735.6 395.9 L729.4 397 L723.2 397.8 L717 398.7 L710.9 400.1 L705 402 L699.2 404.1 L693.3 406.1 L687.4 408.2 L681.6 410.5 L675.8 412.9 L670.1 415.5 L664.2 417.8 L658.4 420.1 L652.5 422.2 L646.6 424.4 L640.7 426.6"/><path d="M1010 260.9 L1003.9 261.5 L997.7 262 L991.6 262.8 L985.6 263.9 L980.1 265.7 L975.1 267.9 L970.4 270.2 L965.6 272.5 L960.7 274.7 L955.5 276.8 L950.1 279 L944.7 281.4 L939.3 284 L934 286.8 L928.6 289.7 L923.3 292.6 L917.9 295.7 L912.6 299 L907.5 302.6 L902.4 305.9 L897.2 308.8 L892.1 311.2 L887.1 313.4 L882.2 315.5 L877.3 317.9 L872.5 320.4 L867.8 323.1 L863.1 326 L858.3 329.1 L853.3 332.3 L848.3 335.7 L843.2 339.1 L838.1 342.6 L832.9 346.1 L827.8 349.5 L822.8 352.9 L817.8 356.3 L812.9 359.8 L808.2 363.2 L803.4 366.5 L798.6 369.7 L794 373 L789.3 376.2 L784.7 379.4 L780.1 382.6 L775.3 385.6 L770.1 387.9 L764.7 390.1 L759.2 392.2 L753.6 394.1 L747.8 395.9 L741.9 397.6 L735.8 398.9 L729.7 399.9 L723.5 400.7 L717.4 401.7 L711.4 403.3 L705.6 405.3 L699.9 407.5 L694.1 409.7 L688.3 411.9 L682.5 414.2 L676.8 416.7 L671.1 419.2 L665.4 421.5 L659.6 423.8 L653.7 425.9 L647.9 428.1 L642 430.3"/><path d="M1010 270.4 L1003.9 270.9 L997.8 271.3 L991.7 271.9 L985.8 272.8 L980.2 274.2 L975 276 L970.1 277.8 L965.2 279.6 L960.2 281.3 L954.8 282.9 L949.4 284.8 L943.9 286.8 L938.5 289.2 L933 291.8 L927.6 294.4 L922.2 297.2 L916.9 300.2 L911.6 303.4 L906.6 306.9 L901.6 310.4 L896.5 313.5 L891.6 316.2 L886.9 318.8 L882.3 321.5 L877.7 324.2 L873.1 327.1 L868.7 330.2 L864.3 333.4 L859.8 336.9 L855.1 340.3 L850.2 343.8 L845.3 347.4 L840.2 350.9 L835.1 354.3 L830 357.6 L824.8 360.8 L819.8 364 L814.8 367.2 L809.9 370.3 L804.9 373.2 L800 376.1 L795.2 379.1 L790.3 381.9 L785.5 384.7 L780.7 387.5 L775.8 390.1 L770.5 392 L765 393.8 L759.4 395.6 L753.7 397.3 L747.9 398.9 L742 400.3 L736 401.6 L729.9 402.5 L723.8 403.4 L717.7 404.4 L711.8 406 L706.1 408.2 L700.5 410.6 L694.8 412.8 L689.1 415.1 L683.4 417.5 L677.8 420 L672.1 422.5 L666.4 424.8 L660.6 427 L654.8 429.2 L649 431.4 L643.2 433.6"/><path d="M1010 281.2 L1003.9 281.4 L997.9 281.7 L991.8 282.1 L985.9 282.7 L980.2 283.8 L974.9 285 L969.9 286.3 L964.8 287.5 L959.6 288.7 L954.1 289.8 L948.6 291.2 L943 293 L937.5 295.1 L932 297.3 L926.5 299.7 L921.1 302.3 L915.7 305.1 L910.5 308.3 L905.5 311.9 L900.6 315.5 L895.8 318.8 L891.2 322 L886.7 325 L882.4 328.1 L878.1 331.3 L873.9 334.7 L869.8 338.2 L865.8 341.8 L861.6 345.6 L857.1 349.3 L852.4 353 L847.6 356.7 L842.7 360.3 L837.6 363.6 L832.4 366.8 L827.2 369.7 L822 372.6 L816.9 375.5 L811.8 378.2 L806.7 380.9 L801.6 383.4 L796.5 385.9 L791.5 388.3 L786.4 390.7 L781.4 393 L776.3 395.1 L770.9 396.6 L765.3 398.1 L759.7 399.5 L753.9 400.9 L748.1 402.2 L742.2 403.4 L736.2 404.5 L730.1 405.5 L724.1 406.3 L718.1 407.5 L712.2 409.2 L706.6 411.5 L701.1 414 L695.6 416.4 L690 418.8 L684.4 421.2 L678.8 423.7 L673.2 426.2 L667.5 428.5 L661.8 430.7 L656.1 432.9 L650.3 435.1 L644.6 437.2"/><path d="M1010 290.7 L1004 290.8 L997.9 291 L991.9 291.2 L986 291.6 L980.3 292.3 L974.9 293.1 L969.6 293.8 L964.4 294.5 L959 295.2 L953.5 296 L947.9 297 L942.3 298.4 L936.6 300.3 L931.1 302.3 L925.5 304.5 L920 306.9 L914.6 309.6 L909.4 312.7 L904.5 316.3 L899.8 320 L895.2 323.6 L890.8 327 L886.6 330.5 L882.5 334 L878.5 337.7 L874.6 341.4 L870.8 345.3 L867.1 349.3 L863.1 353.4 L858.8 357.3 L854.4 361.2 L849.7 365 L844.8 368.6 L839.7 371.9 L834.5 374.9 L829.2 377.6 L823.9 380.3 L818.7 382.9 L813.5 385.3 L808.2 387.6 L802.9 389.8 L797.7 391.9 L792.5 394 L787.2 396 L782.1 397.9 L776.8 399.6 L771.2 400.7 L765.6 401.8 L759.9 403 L754.1 404 L748.3 405.1 L742.3 406.2 L736.4 407.2 L730.4 408.1 L724.4 409 L718.4 410.2 L712.6 412 L707.1 414.4 L701.8 417.1 L696.3 419.6 L690.7 422 L685.2 424.5 L679.7 427.1 L674.1 429.5 L668.5 431.8 L662.8 434 L657.2 436.2 L651.5 438.4 L645.8 440.5"/></g><circle cx="872.5" cy="295.8" r="6.8" fill="url(#dot)"/><circle cx="874.6" cy="305" r="7.5" fill="url(#dot)"/><circle cx="920.4" cy="293.3" r="8.2" fill="url(#dot)"/><circle cx="911.3" cy="301.7" r="6" fill="url(#dot)"/><circle cx="851.7" cy="328" r="6" fill="url(#dot)"/><circle cx="845.4" cy="340.4" r="7.5" fill="url(#dot)"/><circle cx="849.6" cy="343.8" r="6" fill="url(#dot)"/><circle cx="812" cy="373.8" r="6" fill="url(#dot)"/><circle cx="787" cy="380" r="6.8" fill="url(#dot)"/><circle cx="766.3" cy="397.5" r="6" fill="url(#dot)"/><circle cx="749.6" cy="398.8" r="6.8" fill="url(#dot)"/><circle cx="714.2" cy="395.8" r="6.8" fill="url(#dot)"/><circle cx="709.2" cy="408.3" r="5.2" fill="url(#dot)"/><circle cx="733" cy="392" r="6" fill="url(#dot)"/>
<linearGradient id="beamtr" gradientUnits="userSpaceOnUse" x1="1040" y1="225" x2="990" y2="325"><stop offset="0" stop-color="#d2fff6" stop-opacity="0.52"/><stop offset="0.4" stop-color="#7deada" stop-opacity="0.5"/><stop offset="1" stop-color="#4fd6c4" stop-opacity="0.32"/></linearGradient>
<path d="M985 210.5L1090 254.5Q1095 257 1092.5 261L1075 288Q1045 316 1000 322L968 320Q940 300 926 268Q950 250 979 214Q981 209 985 210.5Z" fill="url(#beamtr)"/>
<g fill="none" stroke="#d8fff6" stroke-width="0.6" stroke-opacity="0.42">
<path d="M972 227.2Q1029.8 246.4 1089.2 262.8"/>
<path d="M961 244.4Q1021.6 259.8 1085.4 269.6"/>
<path d="M950 261.6Q1013.4 273.2 1081.6 276.4"/>
<path d="M939 278.8Q1005.2 286.6 1077.8 283.2"/>
<path d="M996.8 215.8L946.2 300.9"/>
<path d="M1010.5 221.5L964.5 304.2"/>
<path d="M1024.2 227.2L982.8 305.9"/>
<path d="M1038 233L1001 306"/>
<path d="M1051.8 238.8L1019.2 304.4"/>
<path d="M1065.5 244.5L1037.5 301.2"/>
<path d="M1079.2 250.2L1055.8 296.4"/>
</g>
<path d="M264.2 290.5V299.5A45.3 21.5 0 0 0 354.8 299.5V290.5Z" fill="#b4b7bd"/><ellipse cx="309.5" cy="290.5" rx="45.3" ry="21.5" fill="#f6f6f6"/>
<path d="M951.1 290V298.5A45.3 22.5 0 0 0 1041.7 298.5V290Z" fill="#76d2c3"/><ellipse cx="996.4" cy="290" rx="45.3" ry="22.5" fill="#a4f2e2"/>
<linearGradient id="gbl" gradientUnits="userSpaceOnUse" x1="300" y1="590" x2="640" y2="440"><stop offset="0" stop-color="#ffffff" stop-opacity="1"/><stop offset="0.1" stop-color="#f6fffd" stop-opacity="1"/><stop offset="0.16" stop-color="#a5f5e6" stop-opacity="1"/><stop offset="0.23" stop-color="#4fd0c0" stop-opacity="1"/><stop offset="0.3" stop-color="#3dc1b4" stop-opacity="1"/><stop offset="0.8" stop-color="#3bbfb3" stop-opacity="1"/><stop offset="1" stop-color="#72eedc" stop-opacity="1"/></linearGradient><path d="M285 575 L290.5 573.3 L295.9 571.5 L301.4 569.8 L306.8 568 L312.3 566.2 L317.7 564.4 L323.1 562.4 L328.4 560.3 L333.6 558 L338.7 555.4 L343.7 552.6 L348.5 549.5 L353.2 546.1 L357.6 542.5 L361.7 538.5 L365.7 534.4 L369.3 529.9 L372.6 525.3 L375.7 520.5 L378.9 515.7 L382.1 511 L385.5 506.4 L389 501.8 L392.5 497.3 L396 492.8 L399.7 488.4 L403.4 484 L407.1 479.7 L410.9 475.4 L415 471.3 L419.3 467.6 L424 464.3 L429 461.5 L434.2 459.1 L439.5 457.2 L445.1 455.9 L450.8 455.4 L456.6 455.1 L462.3 455.2 L468 455.6 L473.7 456.2 L479.4 457 L485 458 L490.6 459.1 L496.2 460.4 L501.8 461.5 L507.5 462.2 L513.2 462.5 L518.9 462.5 L524.7 462.2 L530.3 461.4 L535.9 460.2 L541.4 458.5 L546.7 456.3 L551.9 453.9 L557.1 451.5 L562.3 449.1 L567.4 446.4 L572.3 443.6 L576.9 440.1 L581.9 437.4 L587.1 435 L592.4 432.9 L597.8 430.8 L603.2 428.9 L608.6 427.1 L614.1 425.4 L619.5 423.7 L625 422 L650 457 L644.4 458.4 L638.9 459.9 L633.3 461.3 L627.8 462.8 L622.2 464.3 L616.7 465.8 L611.2 467.4 L605.6 468.9 L600.1 470.2 L594.5 471.6 L588.9 472.9 L583.3 474.1 L577.7 475.3 L572.1 476.6 L566.5 477.8 L560.8 478.9 L555.2 480.1 L549.6 481.2 L543.9 482.2 L538.2 483 L532.6 483.8 L526.9 484.6 L521.2 485.7 L515.7 487.2 L510.2 488.9 L504.9 491.1 L499.9 493.9 L495.1 497 L490.4 500.4 L486 504 L481.8 507.9 L477.9 512.1 L474.5 516.7 L471.4 521.6 L468.4 526.5 L465.4 531.4 L462.3 536.2 L459.4 541.2 L456.4 546 L453 550.7 L449.1 554.9 L444.8 558.7 L440.3 562.2 L435.6 565.6 L430.8 568.7 L425.9 571.6 L420.8 574.2 L415.6 576.7 L410.3 579.1 L405.2 581.7 L400.5 585 L395.8 588.2 L390.5 590.3 L384.9 591.8 L379.3 592.8 L373.6 593.7 L367.9 594.5 L362.2 595.3 L356.6 596.2 L350.9 597.1 L345.2 598.1 L339.6 599 L333.9 600 L328.3 601 L322.6 602 L317 603 L311.3 604 L305.7 605 L300 606Z" fill="url(#gbl)" fill-opacity="0.45"/><path d="M286.8 578.7 L292.3 577.1 L297.8 575.4 L303.2 573.8 L308.7 572.1 L314.2 570.4 L319.6 568.7 L325 566.8 L330.4 564.8 L335.7 562.7 L340.9 560.3 L345.9 557.7 L350.9 554.9 L355.6 551.8 L360.2 548.5 L364.5 544.9 L368.6 541.1 L372.5 536.9 L375.9 532.4 L379.3 527.8 L382.6 523.3 L386.1 518.9 L389.7 514.5 L393.4 510.2 L397.1 505.8 L400.8 501.5 L404.6 497.3 L408.4 493 L412.2 488.7 L416 484.4 L419.9 480.3 L424.1 476.4 L428.6 472.9 L433.3 469.9 L438.3 467.2 L443.4 464.9 L448.7 463.2 L454.1 462.2 L459.6 461.4 L465.1 461.1 L470.7 461 L476.3 461.1 L481.8 461.5 L487.4 462 L493 462.7 L498.5 463.6 L504.1 464.4 L509.8 464.9 L515.5 465.1 L521.3 465 L527 464.6 L532.6 463.8 L538.2 462.6 L543.7 460.9 L549 458.9 L554.3 456.7 L559.6 454.4 L564.8 452.1 L569.9 449.6 L575 446.9 L579.7 443.7 L584.7 441.2 L590 438.9 L595.3 436.8 L600.7 434.8 L606.1 433 L611.6 431.2 L617 429.5 L622.5 427.9 L628 426.2 L647.5 453.5 L642 455 L636.4 456.4 L630.9 457.9 L625.3 459.4 L619.8 460.9 L614.3 462.5 L608.8 464.1 L603.3 465.7 L597.7 467.2 L592.3 468.8 L586.7 470.2 L581.2 471.6 L575.6 473 L570.1 474.3 L564.5 475.6 L558.9 476.9 L553.3 478.1 L547.6 479.2 L542 480.2 L536.3 481 L530.6 481.7 L524.9 482.4 L519.3 483.3 L513.7 484.5 L508.3 486 L502.9 487.8 L497.8 490.2 L492.9 492.9 L488.2 495.9 L483.6 499.1 L479.3 502.6 L475.2 506.5 L471.6 510.7 L468.2 515.1 L465 519.8 L461.7 524.4 L458.5 529 L455.4 533.8 L452.2 538.6 L448.8 543.1 L444.9 547.3 L440.7 551.2 L436.2 554.9 L431.6 558.3 L427 561.6 L422.2 564.7 L417.2 567.5 L412.2 570.1 L407.2 572.8 L402.3 575.6 L397.7 579 L393.1 582.4 L388 584.8 L382.6 586.4 L377.1 587.8 L371.6 588.9 L366 590 L360.4 591 L354.8 592.1 L349.2 593.2 L343.5 594.3 L337.9 595.4 L332.3 596.5 L326.7 597.6 L321 598.6 L315.4 599.7 L309.8 600.8 L304.1 601.8 L298.5 602.9Z" fill="url(#gbl)" fill-opacity="0.36"/><path d="M288.8 582.8 L294.3 581.2 L299.8 579.7 L305.3 578.1 L310.8 576.5 L316.3 574.9 L321.7 573.3 L327.2 571.6 L332.6 569.7 L337.9 567.7 L343.2 565.6 L348.3 563.3 L353.4 560.7 L358.3 558 L363 555.1 L367.5 551.9 L371.9 548.4 L375.9 544.5 L379.6 540.2 L383.1 535.8 L386.7 531.5 L390.5 527.4 L394.3 523.3 L398.2 519.3 L402 515.1 L405.9 511 L409.9 506.9 L413.7 502.7 L417.6 498.5 L421.4 494.2 L425.3 490 L429.3 486 L433.6 482.3 L438.1 479 L442.7 476 L447.5 473.3 L452.5 471.1 L457.6 469.6 L462.9 468.3 L468.2 467.4 L473.6 466.8 L479 466.4 L484.5 466.2 L490 466.3 L495.5 466.6 L501.1 467.1 L506.7 467.5 L512.3 467.8 L518 467.8 L523.8 467.7 L529.5 467.2 L535.1 466.3 L540.7 465.2 L546.2 463.6 L551.6 461.7 L556.9 459.6 L562.2 457.5 L567.5 455.3 L572.7 453 L577.8 450.6 L582.7 447.6 L587.8 445.3 L593.1 443.1 L598.5 441.1 L603.9 439.2 L609.3 437.4 L614.8 435.7 L620.3 434 L625.8 432.4 L631.2 430.8 L645 450 L639.5 451.5 L633.9 453 L628.4 454.5 L622.9 456 L617.3 457.6 L611.8 459.2 L606.4 460.9 L600.9 462.6 L595.4 464.2 L590 466 L584.6 467.6 L579.1 469.1 L573.6 470.6 L568 472 L562.5 473.5 L556.9 474.8 L551.4 476.1 L545.7 477.2 L540.1 478.2 L534.4 478.9 L528.7 479.5 L523 480.1 L517.4 480.9 L511.8 481.8 L506.3 483 L501 484.5 L495.8 486.5 L490.8 488.8 L486 491.4 L481.3 494.3 L476.8 497.4 L472.5 500.8 L468.6 504.6 L465 508.7 L461.6 513 L458.1 517.4 L454.7 521.8 L451.4 526.4 L448.1 531.1 L444.6 535.6 L440.7 539.8 L436.5 543.8 L432.2 547.5 L427.7 551 L423.1 554.4 L418.5 557.7 L413.7 560.7 L408.9 563.5 L404 566.4 L399.3 569.5 L394.9 573 L390.5 576.5 L385.5 579.2 L380.3 581.1 L374.9 582.8 L369.5 584.2 L364 585.5 L358.5 586.8 L353 588 L347.4 589.3 L341.9 590.5 L336.3 591.7 L330.7 592.9 L325.1 594.1 L319.5 595.2 L313.8 596.4 L308.2 597.5 L302.6 598.7 L297 599.8Z" fill="url(#gbl)" fill-opacity="0.74"/><g fill="none" stroke="url(#gbl)" stroke-width="0.8" stroke-opacity="0.4"><path d="M285 575 L290.5 573.3 L295.9 571.5 L301.4 569.8 L306.8 568 L312.3 566.2 L317.7 564.4 L323.1 562.4 L328.4 560.3 L333.6 558 L338.7 555.4 L343.7 552.6 L348.5 549.5 L353.2 546.1 L357.6 542.5 L361.7 538.5 L365.7 534.4 L369.3 529.9 L372.6 525.3 L375.7 520.5 L378.9 515.7 L382.1 511 L385.5 506.4 L389 501.8 L392.5 497.3 L396 492.8 L399.7 488.4 L403.4 484 L407.1 479.7 L410.9 475.4 L415 471.3 L419.3 467.6 L424 464.3 L429 461.5 L434.2 459.1 L439.5 457.2 L445.1 455.9 L450.8 455.4 L456.6 455.1 L462.3 455.2 L468 455.6 L473.7 456.2 L479.4 457 L485 458 L490.6 459.1 L496.2 460.4 L501.8 461.5 L507.5 462.2 L513.2 462.5 L518.9 462.5 L524.7 462.2 L530.3 461.4 L535.9 460.2 L541.4 458.5 L546.7 456.3 L551.9 453.9 L557.1 451.5 L562.3 449.1 L567.4 446.4 L572.3 443.6 L576.9 440.1 L581.9 437.4 L587.1 435 L592.4 432.9 L597.8 430.8 L603.2 428.9 L608.6 427.1 L614.1 425.4 L619.5 423.7 L625 422"/><path d="M300 606 L305.7 605 L311.3 604 L317 603 L322.6 602 L328.3 601 L333.9 600 L339.6 599 L345.2 598.1 L350.9 597.1 L356.6 596.2 L362.2 595.3 L367.9 594.5 L373.6 593.7 L379.3 592.8 L384.9 591.8 L390.5 590.3 L395.8 588.2 L400.5 585 L405.2 581.7 L410.3 579.1 L415.6 576.7 L420.8 574.2 L425.9 571.6 L430.8 568.7 L435.6 565.6 L440.3 562.2 L444.8 558.7 L449.1 554.9 L453 550.7 L456.4 546 L459.4 541.2 L462.3 536.2 L465.4 531.4 L468.4 526.5 L471.4 521.6 L474.5 516.7 L477.9 512.1 L481.8 507.9 L486 504 L490.4 500.4 L495.1 497 L499.9 493.9 L504.9 491.1 L510.2 488.9 L515.7 487.2 L521.2 485.7 L526.9 484.6 L532.6 483.8 L538.2 483 L543.9 482.2 L549.6 481.2 L555.2 480.1 L560.8 478.9 L566.5 477.8 L572.1 476.6 L577.7 475.3 L583.3 474.1 L588.9 472.9 L594.5 471.6 L600.1 470.2 L605.6 468.9 L611.2 467.4 L616.7 465.8 L622.2 464.3 L627.8 462.8 L633.3 461.3 L638.9 459.9 L644.4 458.4 L650 457"/></g><g fill="none" stroke="#b5fff3" stroke-width="0.7" stroke-opacity="0.36"><path d="M289.5 584.3 L295 582.8 L300.5 581.3 L306 579.8 L311.6 578.2 L317.1 576.7 L322.6 575.1 L328 573.4 L333.4 571.6 L338.8 569.7 L344.1 567.7 L349.3 565.4 L354.3 563 L359.3 560.4 L364.1 557.6 L368.7 554.5 L373.1 551.2 L377.2 547.4 L381 543.2 L384.6 538.9 L388.3 534.7 L392.1 530.7 L396.1 526.7 L400 522.7 L404 518.7 L407.9 514.6 L411.9 510.6 L415.8 506.4 L419.7 502.2 L423.5 498 L427.4 493.7 L431.3 489.7 L435.5 485.9 L439.9 482.5 L444.5 479.3 L449.1 476.5 L453.9 474.2 L459 472.4 L464.1 470.9 L469.4 469.9 L474.7 469 L480.1 468.4 L485.5 468.1 L491 467.9 L496.5 468 L502 468.4 L507.6 468.8 L513.3 468.9 L519 468.9 L524.7 468.7 L530.4 468.2 L536.1 467.3 L541.7 466.2 L547.2 464.6 L552.6 462.7 L557.9 460.7 L563.3 458.7 L568.6 456.6 L573.8 454.4 L579 452 L583.8 449.2 L589 446.8 L594.3 444.7 L599.7 442.8 L605.1 440.9 L610.5 439.1 L616 437.4 L621.5 435.7 L627 434.1 L632.5 432.5"/><path d="M290.7 586.8 L296.2 585.3 L301.8 583.9 L307.3 582.4 L312.8 581 L318.3 579.5 L323.8 577.9 L329.3 576.3 L334.8 574.6 L340.2 572.8 L345.5 570.9 L350.8 568.8 L355.9 566.6 L360.9 564.2 L365.8 561.6 L370.5 558.8 L375.1 555.7 L379.4 552.1 L383.2 548 L386.9 543.8 L390.8 539.8 L394.8 535.9 L398.9 532.2 L403 528.3 L407 524.4 L411.1 520.4 L415.1 516.5 L419.1 512.4 L423.1 508.2 L426.9 504 L430.7 499.7 L434.5 495.5 L438.6 491.6 L442.8 488.1 L447.2 484.7 L451.7 481.6 L456.3 479 L461.1 476.9 L466.1 475.2 L471.3 473.8 L476.5 472.6 L481.8 471.7 L487.2 471 L492.6 470.6 L498.1 470.4 L503.6 470.6 L509.2 470.7 L514.9 470.7 L520.6 470.6 L526.3 470.3 L532 469.8 L537.6 468.9 L543.3 467.8 L548.8 466.2 L554.2 464.4 L559.6 462.5 L564.9 460.6 L570.2 458.6 L575.5 456.5 L580.7 454.2 L585.7 451.6 L590.9 449.3 L596.3 447.3 L601.6 445.4 L607.1 443.5 L612.5 441.8 L618 440.1 L623.5 438.5 L629 436.9 L634.5 435.3"/><path d="M292.1 589.6 L297.6 588.2 L303.1 586.8 L308.7 585.4 L314.2 584 L319.8 582.6 L325.3 581.1 L330.8 579.6 L336.3 578 L341.7 576.4 L347.1 574.6 L352.4 572.7 L357.6 570.7 L362.8 568.5 L367.8 566.1 L372.6 563.6 L377.3 560.7 L381.7 557.3 L385.7 553.3 L389.6 549.3 L393.7 545.5 L397.8 541.9 L402.1 538.3 L406.3 534.6 L410.5 530.8 L414.6 527 L418.8 523.1 L422.9 519.1 L426.8 515 L430.7 510.8 L434.4 506.4 L438.1 502.2 L442 498.1 L446.1 494.3 L450.3 490.8 L454.5 487.4 L458.9 484.5 L463.6 482 L468.4 479.9 L473.4 478.2 L478.5 476.7 L483.7 475.4 L489 474.3 L494.4 473.6 L499.8 473.1 L505.4 473 L510.9 472.9 L516.6 472.7 L522.3 472.5 L528 472.2 L533.7 471.6 L539.4 470.7 L545 469.5 L550.5 468.1 L556 466.4 L561.4 464.6 L566.8 462.7 L572.1 460.8 L577.5 458.9 L582.7 456.7 L587.8 454.3 L593.1 452.2 L598.4 450.2 L603.8 448.3 L609.3 446.5 L614.7 444.8 L620.2 443.2 L625.7 441.6 L631.2 440 L636.8 438.5"/><path d="M293.2 592 L298.8 590.7 L304.4 589.4 L309.9 588.1 L315.5 586.7 L321.1 585.4 L326.6 584 L332.1 582.6 L337.6 581.1 L343.1 579.5 L348.5 577.8 L353.9 576.1 L359.2 574.3 L364.4 572.3 L369.5 570.2 L374.5 567.8 L379.3 565.2 L383.9 562 L387.9 558.1 L392 554.2 L396.2 550.6 L400.5 547.1 L404.9 543.7 L409.3 540.2 L413.5 536.6 L417.8 532.8 L422 529 L426.2 525.1 L430.2 521 L434.1 516.8 L437.7 512.4 L441.3 508 L445.1 503.9 L449 499.9 L453 496.2 L457.1 492.6 L461.3 489.4 L465.7 486.6 L470.4 484.1 L475.3 482.1 L480.3 480.2 L485.5 478.6 L490.6 477.3 L496 476.2 L501.4 475.5 L506.9 475.1 L512.5 474.8 L518.2 474.5 L523.9 474.2 L529.6 473.8 L535.3 473.2 L540.9 472.3 L546.5 471.1 L552.1 469.7 L557.6 468.1 L563 466.4 L568.4 464.6 L573.8 462.8 L579.2 461 L584.5 459 L589.6 456.7 L595 454.7 L600.4 452.8 L605.8 451 L611.2 449.2 L616.7 447.5 L622.2 445.9 L627.7 444.4 L633.2 442.8 L638.8 441.2"/><path d="M294.6 594.8 L300.2 593.6 L305.8 592.3 L311.3 591.1 L316.9 589.8 L322.5 588.5 L328.1 587.2 L333.6 585.9 L339.2 584.5 L344.7 583 L350.1 581.5 L355.6 579.9 L360.9 578.3 L366.2 576.6 L371.5 574.7 L376.6 572.6 L381.5 570.2 L386.2 567.2 L390.5 563.5 L394.6 559.7 L399 556.3 L403.5 553 L408.1 549.8 L412.6 546.5 L417 543 L421.4 539.4 L425.7 535.7 L429.9 531.8 L434 527.8 L437.8 523.6 L441.5 519.1 L445 514.7 L448.5 510.3 L452.3 506.2 L456.1 502.2 L459.9 498.4 L463.9 494.9 L468.2 491.7 L472.7 488.9 L477.5 486.5 L482.4 484.3 L487.4 482.3 L492.5 480.6 L497.8 479.2 L503.2 478.2 L508.7 477.5 L514.2 477 L519.9 476.5 L525.6 476.1 L531.3 475.7 L537 475 L542.6 474 L548.3 472.9 L553.8 471.6 L559.3 470 L564.8 468.4 L570.3 466.8 L575.7 465.1 L581.1 463.3 L586.5 461.5 L591.7 459.4 L597.1 457.5 L602.5 455.7 L608 453.9 L613.4 452.2 L618.9 450.6 L624.4 449 L630 447.5 L635.5 445.9 L641 444.4"/><path d="M295.8 597.3 L301.4 596.1 L307 594.9 L312.6 593.7 L318.2 592.5 L323.8 591.3 L329.4 590.1 L334.9 588.8 L340.5 587.5 L346 586.1 L351.6 584.8 L357 583.4 L362.5 581.9 L367.9 580.4 L373.2 578.7 L378.4 576.9 L383.5 574.7 L388.4 571.9 L392.7 568.3 L397 564.6 L401.5 561.3 L406.2 558.3 L410.9 555.2 L415.5 552.1 L420.1 548.7 L424.5 545.2 L428.9 541.6 L433.2 537.8 L437.3 533.8 L441.2 529.6 L444.8 525.1 L448.2 520.6 L451.6 516.1 L455.2 511.8 L458.8 507.6 L462.5 503.5 L466.3 499.7 L470.3 496.2 L474.7 493.1 L479.4 490.4 L484.2 487.9 L489.1 485.6 L494.1 483.6 L499.4 481.9 L504.7 480.6 L510.2 479.7 L515.8 478.9 L521.5 478.3 L527.1 477.8 L532.8 477.3 L538.5 476.6 L544.2 475.6 L549.8 474.5 L555.4 473.2 L560.9 471.7 L566.4 470.2 L571.9 468.7 L577.4 467.1 L582.9 465.5 L588.3 463.7 L593.6 461.8 L599 460 L604.4 458.3 L609.9 456.6 L615.4 454.9 L620.9 453.3 L626.4 451.8 L631.9 450.2 L637.5 448.7 L643 447.2"/></g><circle cx="381" cy="564.8" r="6.8" fill="url(#dot)"/><circle cx="386.3" cy="550.6" r="6.8" fill="url(#dot)"/><circle cx="404.9" cy="549.1" r="8.2" fill="url(#dot)"/><circle cx="406.7" cy="528.4" r="6.8" fill="url(#dot)"/><circle cx="448.4" cy="496.3" r="7.5" fill="url(#dot)"/><circle cx="471.6" cy="474.9" r="9" fill="url(#dot)"/><circle cx="491.6" cy="462.4" r="5.2" fill="url(#dot)"/><circle cx="504" cy="467.1" r="6" fill="url(#dot)"/><circle cx="523.3" cy="474.2" r="6" fill="url(#dot)"/><circle cx="540.4" cy="476.7" r="6" fill="url(#dot)"/><circle cx="550" cy="463" r="6" fill="url(#dot)"/><circle cx="568" cy="470" r="6" fill="url(#dot)"/>
<linearGradient id="gbr" gradientUnits="userSpaceOnUse" x1="975" y1="585" x2="640" y2="440"><stop offset="0" stop-color="#ffffff" stop-opacity="1"/><stop offset="0.1" stop-color="#f6fffd" stop-opacity="1"/><stop offset="0.16" stop-color="#a5f5e6" stop-opacity="1"/><stop offset="0.23" stop-color="#4fd0c0" stop-opacity="1"/><stop offset="0.3" stop-color="#3dc1b4" stop-opacity="1"/><stop offset="0.8" stop-color="#3bbfb3" stop-opacity="1"/><stop offset="1" stop-color="#72eedc" stop-opacity="1"/></linearGradient><path d="M650 424 L655.5 425.6 L660.9 427.3 L666.3 429 L671.7 430.8 L677.1 432.8 L682.3 435.1 L687.4 437.5 L692.6 440 L697.8 442.3 L703 444.5 L708.3 446.6 L713.7 448.6 L719 450.6 L724.4 452.5 L729.7 454.4 L735.1 456.3 L740.6 457.8 L746.2 458.7 L751.9 459.4 L757.5 459.8 L763.2 460 L768.9 460 L774.6 459.4 L780.2 458.6 L785.8 457.6 L791.5 456.8 L797.1 456.1 L802.8 455.4 L808.4 454.9 L814.1 454.7 L819.8 455 L825.5 455.7 L831.1 456.8 L836.5 458.3 L841.8 460.5 L846.8 463.3 L851.4 466.6 L855.7 470.3 L859.9 474.2 L863.8 478.3 L867.6 482.6 L871.1 487 L874.6 491.6 L878 496.1 L881.2 500.8 L884.4 505.6 L887.5 510.3 L890.8 514.9 L894.4 519.3 L898.2 523.6 L902.1 527.8 L906.2 531.7 L910.6 535.4 L915.1 538.8 L919.9 542 L924.8 544.9 L929.8 547.6 L934.8 550.2 L940 552.7 L945.2 555 L950.4 557.2 L955.8 559 L961.3 560.6 L966.8 561.8 L972.4 562.8 L978.1 563.7 L983.7 564.5 L989.4 565.2 L995 566 L960 603 L955.4 600.5 L950.7 598 L946.1 595.5 L941.4 593.1 L936.7 590.8 L931.9 588.6 L927.1 586.6 L922.2 584.6 L917.2 582.8 L912.2 581.3 L907.1 579.9 L902 578.9 L896.8 578 L891.6 577.1 L886.4 576.1 L881.3 575.2 L876.1 574.3 L870.9 573.3 L865.8 572.1 L860.8 570.6 L855.7 569 L850.8 567.2 L846 565.1 L841.4 562.6 L837.1 559.5 L833.2 555.9 L829.6 552.1 L826.1 548.2 L822.7 544.2 L819.5 540.1 L816.4 535.8 L813.5 531.4 L810.6 527 L807.6 522.7 L804.5 518.5 L801.3 514.2 L798.2 510 L794.9 505.9 L791.3 502.1 L787.2 498.7 L782.7 496 L777.9 494 L772.9 492.3 L767.8 490.9 L762.7 489.9 L757.5 489.1 L752.2 488.4 L747 487.8 L741.8 487.1 L736.6 486.5 L731.3 486 L726.1 485.5 L720.9 484.9 L715.7 484.1 L710.5 483.2 L705.4 482 L700.3 480.8 L695.2 479.4 L690.1 478 L685.1 476.5 L680 475 L675 473.3 L670.1 471.6 L665.1 470 L660 468.4 L655 466.8 L650 465.2 L645 463.6 L640 462Z" fill="url(#gbr)" fill-opacity="0.45"/><path d="M648.8 428.6 L654.2 430.2 L659.6 431.8 L665 433.5 L670.3 435.3 L675.6 437.3 L680.8 439.5 L685.9 441.8 L691.1 444.2 L696.2 446.5 L701.5 448.5 L706.7 450.5 L712 452.5 L717.4 454.3 L722.7 456.2 L728 457.9 L733.4 459.7 L738.8 461.1 L744.4 462 L750 462.6 L755.6 463.1 L761.3 463.4 L766.9 463.4 L772.5 463 L778.1 462.4 L783.7 461.6 L789.2 461 L794.8 460.6 L800.4 460.3 L805.9 460.1 L811.4 460.4 L816.8 461.1 L822.2 462.3 L827.5 463.7 L832.7 465.6 L837.7 468 L842.4 470.9 L846.8 474.4 L851 478.2 L855 482.1 L858.9 486.2 L862.6 490.5 L866.1 494.9 L869.6 499.3 L873.1 503.7 L876.4 508.2 L879.7 512.7 L883.1 517.1 L886.6 521.4 L890.4 525.5 L894.3 529.4 L898.4 533.2 L902.6 536.8 L907 540.2 L911.7 543.3 L916.5 546.2 L921.4 548.8 L926.4 551.3 L931.5 553.7 L936.6 556.1 L941.8 558.3 L947 560.4 L952.4 562.3 L957.7 564 L963.2 565.3 L968.7 566.5 L974.2 567.5 L979.8 568.5 L985.3 569.5 L990.8 570.4 L963.5 599.3 L958.8 597 L954 594.7 L949.3 592.4 L944.5 590.1 L939.7 587.9 L934.8 585.8 L929.9 583.8 L925 581.9 L920 580.1 L915 578.4 L909.9 576.9 L904.8 575.7 L899.6 574.6 L894.4 573.5 L889.3 572.4 L884.2 571.2 L879.1 570 L874 568.8 L869 567.2 L864.1 565.5 L859.2 563.6 L854.5 561.5 L849.8 559.2 L845.4 556.4 L841.2 553.1 L837.4 549.5 L833.7 545.6 L830.3 541.6 L826.8 537.6 L823.5 533.5 L820.3 529.2 L817.3 524.9 L814.2 520.6 L811 516.5 L807.7 512.4 L804.3 508.5 L800.9 504.6 L797.3 500.8 L793.5 497.4 L789.3 494.4 L784.7 492 L779.8 490.2 L774.7 488.8 L769.6 487.6 L764.4 486.8 L759.2 486.1 L753.9 485.6 L748.6 485 L743.4 484.4 L738.1 483.8 L732.8 483.3 L727.6 482.7 L722.3 482 L717.1 481.1 L711.9 480.1 L706.7 478.9 L701.6 477.6 L696.5 476.2 L691.4 474.7 L686.3 473.1 L681.3 471.5 L676.3 469.7 L671.3 468 L666.3 466.3 L661.2 464.7 L656.2 463 L651.1 461.4 L646.1 459.8 L641 458.2Z" fill="url(#gbr)" fill-opacity="0.36"/><path d="M647.5 433.5 L652.8 435.1 L658.2 436.8 L663.5 438.4 L668.8 440.2 L674.1 442.1 L679.2 444.2 L684.3 446.5 L689.4 448.7 L694.6 450.9 L699.8 452.9 L705 454.8 L710.3 456.7 L715.6 458.4 L720.9 460.2 L726.2 461.8 L731.5 463.5 L737 464.7 L742.5 465.5 L748 466.2 L753.6 466.6 L759.2 467 L764.8 467.1 L770.3 466.9 L775.8 466.4 L781.3 466 L786.8 465.7 L792.3 465.6 L797.8 465.6 L803.1 465.8 L808.4 466.5 L813.6 467.8 L818.6 469.3 L823.6 471.2 L828.5 473.4 L833.3 476 L837.7 479.2 L841.9 482.8 L845.9 486.7 L849.8 490.7 L853.6 494.8 L857.2 499 L860.7 503.3 L864.3 507.7 L867.8 512 L871.3 516.3 L874.8 520.5 L878.3 524.5 L882.1 528.5 L886 532.2 L890.1 535.7 L894.3 539.1 L898.7 542.3 L903.2 545.3 L908 548.1 L912.8 550.7 L917.8 553.1 L922.8 555.4 L927.9 557.6 L933 559.8 L938.2 562 L943.4 564 L948.6 565.9 L953.9 567.6 L959.3 569.1 L964.7 570.4 L970.1 571.7 L975.5 572.9 L980.9 574 L986.2 575.2 L967 595.6 L962.2 593.5 L957.3 591.3 L952.5 589.2 L947.6 587.1 L942.7 585 L937.8 583 L932.8 581.1 L927.8 579.1 L922.8 577.3 L917.8 575.5 L912.7 574 L907.5 572.6 L902.4 571.3 L897.3 570 L892.2 568.6 L887.1 567.2 L882.1 565.8 L877.2 564.2 L872.3 562.4 L867.5 560.3 L862.8 558.2 L858.1 555.9 L853.6 553.2 L849.3 550.2 L845.3 546.8 L841.5 543.1 L837.9 539.1 L834.4 535.1 L831 531 L827.5 526.9 L824.3 522.7 L821 518.5 L817.8 514.3 L814.4 510.2 L810.9 506.4 L807.3 502.7 L803.6 499.2 L799.8 495.8 L795.8 492.6 L791.5 490 L786.7 487.9 L781.7 486.4 L776.6 485.2 L771.4 484.3 L766.2 483.6 L760.9 483.2 L755.6 482.7 L750.3 482.2 L744.9 481.6 L739.6 481.1 L734.3 480.6 L729 479.9 L723.7 479.2 L718.5 478.2 L713.3 477 L708.1 475.7 L702.9 474.4 L697.8 472.9 L692.7 471.3 L687.6 469.7 L682.5 468 L677.5 466.2 L672.5 464.3 L667.5 462.6 L662.4 460.9 L657.3 459.2 L652.2 457.6 L647.1 456 L642 454.4Z" fill="url(#gbr)" fill-opacity="0.74"/><g fill="none" stroke="url(#gbr)" stroke-width="0.8" stroke-opacity="0.4"><path d="M650 424 L655.5 425.6 L660.9 427.3 L666.3 429 L671.7 430.8 L677.1 432.8 L682.3 435.1 L687.4 437.5 L692.6 440 L697.8 442.3 L703 444.5 L708.3 446.6 L713.7 448.6 L719 450.6 L724.4 452.5 L729.7 454.4 L735.1 456.3 L740.6 457.8 L746.2 458.7 L751.9 459.4 L757.5 459.8 L763.2 460 L768.9 460 L774.6 459.4 L780.2 458.6 L785.8 457.6 L791.5 456.8 L797.1 456.1 L802.8 455.4 L808.4 454.9 L814.1 454.7 L819.8 455 L825.5 455.7 L831.1 456.8 L836.5 458.3 L841.8 460.5 L846.8 463.3 L851.4 466.6 L855.7 470.3 L859.9 474.2 L863.8 478.3 L867.6 482.6 L871.1 487 L874.6 491.6 L878 496.1 L881.2 500.8 L884.4 505.6 L887.5 510.3 L890.8 514.9 L894.4 519.3 L898.2 523.6 L902.1 527.8 L906.2 531.7 L910.6 535.4 L915.1 538.8 L919.9 542 L924.8 544.9 L929.8 547.6 L934.8 550.2 L940 552.7 L945.2 555 L950.4 557.2 L955.8 559 L961.3 560.6 L966.8 561.8 L972.4 562.8 L978.1 563.7 L983.7 564.5 L989.4 565.2 L995 566"/><path d="M640 462 L645 463.6 L650 465.2 L655 466.8 L660 468.4 L665.1 470 L670.1 471.6 L675 473.3 L680 475 L685.1 476.5 L690.1 478 L695.2 479.4 L700.3 480.8 L705.4 482 L710.5 483.2 L715.7 484.1 L720.9 484.9 L726.1 485.5 L731.3 486 L736.6 486.5 L741.8 487.1 L747 487.8 L752.2 488.4 L757.5 489.1 L762.7 489.9 L767.8 490.9 L772.9 492.3 L777.9 494 L782.7 496 L787.2 498.7 L791.3 502.1 L794.9 505.9 L798.2 510 L801.3 514.2 L804.5 518.5 L807.6 522.7 L810.6 527 L813.5 531.4 L816.4 535.8 L819.5 540.1 L822.7 544.2 L826.1 548.2 L829.6 552.1 L833.2 555.9 L837.1 559.5 L841.4 562.6 L846 565.1 L850.8 567.2 L855.7 569 L860.8 570.6 L865.8 572.1 L870.9 573.3 L876.1 574.3 L881.3 575.2 L886.4 576.1 L891.6 577.1 L896.8 578 L902 578.9 L907.1 579.9 L912.2 581.3 L917.2 582.8 L922.2 584.6 L927.1 586.6 L931.9 588.6 L936.7 590.8 L941.4 593.1 L946.1 595.5 L950.7 598 L955.4 600.5 L960 603"/></g><g fill="none" stroke="#b5fff3" stroke-width="0.7" stroke-opacity="0.36"><path d="M647 435.4 L652.3 437 L657.6 438.7 L662.9 440.3 L668.2 442.1 L673.5 444 L678.6 446.1 L683.7 448.3 L688.8 450.5 L693.9 452.6 L699.1 454.6 L704.4 456.4 L709.6 458.3 L714.9 460 L720.2 461.7 L725.5 463.3 L730.8 464.9 L736.2 466.1 L741.7 466.9 L747.3 467.5 L752.8 468 L758.4 468.4 L763.9 468.5 L769.5 468.3 L775 468 L780.4 467.6 L785.9 467.4 L791.3 467.5 L796.8 467.6 L802.1 468 L807.3 468.9 L812.3 470.3 L817.3 472 L822.1 474 L826.9 476.4 L831.5 479.1 L835.9 482.4 L840 486.1 L843.9 490 L847.8 493.9 L851.5 498 L855.1 502.3 L858.7 506.6 L862.2 510.9 L865.7 515.1 L869.3 519.3 L872.8 523.4 L876.5 527.4 L880.3 531.2 L884.3 534.7 L888.5 538.2 L892.8 541.4 L897.2 544.5 L901.8 547.3 L906.5 550 L911.4 552.5 L916.4 554.8 L921.4 557 L926.5 559.1 L931.6 561.2 L936.8 563.4 L942 565.4 L947.2 567.3 L952.5 569 L957.8 570.5 L963.1 571.9 L968.5 573.3 L973.8 574.5 L979.2 575.8 L984.5 577.1"/><path d="M646.2 438.4 L651.5 440.1 L656.8 441.7 L662 443.4 L667.3 445.1 L672.5 447 L677.6 449 L682.7 451.1 L687.8 453.3 L692.9 455.3 L698.1 457.3 L703.3 459.1 L708.6 460.8 L713.8 462.5 L719.1 464.1 L724.4 465.7 L729.7 467.2 L735.1 468.3 L740.6 469.1 L746.1 469.7 L751.6 470.2 L757.1 470.6 L762.6 470.8 L768.1 470.7 L773.5 470.5 L779 470.3 L784.4 470.3 L789.8 470.5 L795.1 470.8 L800.4 471.5 L805.4 472.7 L810.3 474.4 L815.1 476.4 L819.8 478.6 L824.3 481.2 L828.8 484.1 L833 487.5 L837 491.2 L840.8 495.2 L844.5 499.2 L848.2 503.3 L851.8 507.5 L855.3 511.8 L858.9 516 L862.5 520.2 L866.1 524.3 L869.8 528.2 L873.6 531.9 L877.5 535.5 L881.6 538.8 L885.9 542 L890.3 545.1 L894.8 547.9 L899.4 550.5 L904.2 553 L909.1 555.3 L914.1 557.4 L919.2 559.5 L924.3 561.5 L929.4 563.5 L934.5 565.6 L939.7 567.6 L944.9 569.5 L950.1 571.3 L955.4 572.8 L960.7 574.3 L965.9 575.8 L971.2 577.2 L976.4 578.6 L981.7 580.1"/><path d="M645.3 441.9 L650.5 443.5 L655.8 445.1 L661 446.8 L666.2 448.5 L671.4 450.3 L676.5 452.3 L681.6 454.4 L686.7 456.4 L691.8 458.4 L696.9 460.3 L702.1 462 L707.4 463.7 L712.6 465.4 L717.8 466.9 L723.1 468.4 L728.4 469.7 L733.8 470.8 L739.2 471.5 L744.7 472.1 L750.1 472.6 L755.6 473.1 L761.1 473.3 L766.5 473.4 L772 473.3 L777.4 473.3 L782.7 473.5 L788.1 473.9 L793.3 474.5 L798.5 475.5 L803.4 477 L808.1 479 L812.6 481.3 L817.1 483.8 L821.5 486.6 L825.7 489.7 L829.7 493.2 L833.6 497.1 L837.2 501.1 L840.9 505.1 L844.5 509.2 L848.1 513.4 L851.6 517.6 L855.2 521.8 L858.8 525.9 L862.5 529.8 L866.3 533.6 L870.3 537.1 L874.3 540.3 L878.6 543.4 L883 546.4 L887.5 549.2 L892.1 551.7 L896.8 554.1 L901.6 556.3 L906.6 558.5 L911.6 560.4 L916.7 562.3 L921.8 564.2 L926.9 566.1 L932 568.1 L937.2 570.1 L942.3 572 L947.5 573.8 L952.7 575.5 L957.9 577.1 L963 578.7 L968.2 580.2 L973.4 581.8 L978.5 583.4"/><path d="M644.5 444.9 L649.7 446.5 L654.9 448.1 L660.1 449.8 L665.3 451.5 L670.5 453.3 L675.6 455.2 L680.6 457.2 L685.7 459.2 L690.8 461.2 L695.9 463 L701.1 464.7 L706.3 466.3 L711.5 467.9 L716.7 469.4 L722 470.7 L727.3 472 L732.6 473 L738 473.7 L743.5 474.3 L748.9 474.8 L754.3 475.3 L759.7 475.6 L765.2 475.7 L770.6 475.8 L775.9 475.9 L781.2 476.3 L786.5 476.9 L791.7 477.8 L796.8 479 L801.6 480.8 L806.1 483 L810.4 485.6 L814.7 488.4 L818.9 491.4 L823 494.7 L826.8 498.3 L830.5 502.3 L834.1 506.3 L837.7 510.4 L841.2 514.5 L844.8 518.7 L848.3 522.9 L851.8 527 L855.5 531 L859.3 534.8 L863.2 538.3 L867.3 541.6 L871.5 544.7 L875.9 547.5 L880.4 550.3 L885 552.8 L889.6 555.1 L894.4 557.3 L899.3 559.3 L904.3 561.3 L909.4 563.1 L914.5 564.8 L919.6 566.5 L924.7 568.4 L929.8 570.3 L934.9 572.3 L940 574.2 L945.1 576 L950.3 577.8 L955.4 579.5 L960.5 581.2 L965.6 582.9 L970.7 584.6 L975.8 586.4"/><path d="M643.6 448.3 L648.8 449.9 L653.9 451.6 L659.1 453.2 L664.3 454.9 L669.4 456.6 L674.5 458.5 L679.5 460.4 L684.6 462.4 L689.6 464.2 L694.8 466 L699.9 467.6 L705.1 469.2 L710.3 470.7 L715.5 472.1 L720.7 473.4 L726 474.6 L731.3 475.5 L736.7 476.2 L742.1 476.8 L747.5 477.3 L752.9 477.8 L758.2 478.2 L763.6 478.4 L769 478.6 L774.3 478.9 L779.6 479.5 L784.8 480.3 L789.9 481.4 L794.9 482.9 L799.5 485 L803.8 487.6 L808 490.5 L812 493.6 L816 496.8 L819.9 500.3 L823.6 504.1 L827.1 508.1 L830.6 512.2 L834 516.3 L837.5 520.5 L841 524.6 L844.5 528.7 L848.1 532.8 L851.9 536.7 L855.7 540.3 L859.8 543.7 L864 546.7 L868.4 549.5 L872.9 552.1 L877.5 554.6 L882.1 556.9 L886.9 559 L891.8 560.9 L896.8 562.7 L901.8 564.4 L906.9 566 L912 567.6 L917.1 569.2 L922.2 571 L927.3 572.8 L932.4 574.7 L937.4 576.6 L942.5 578.5 L947.5 580.4 L952.6 582.2 L957.6 584.1 L962.6 585.9 L967.6 587.8 L972.6 589.7"/><path d="M642.8 451.4 L647.9 453 L653.1 454.6 L658.2 456.2 L663.3 457.9 L668.4 459.6 L673.5 461.4 L678.5 463.3 L683.5 465.2 L688.6 467 L693.7 468.6 L698.9 470.2 L704 471.8 L709.2 473.2 L714.4 474.6 L719.6 475.8 L724.9 476.9 L730.2 477.7 L735.5 478.4 L740.9 478.9 L746.2 479.5 L751.6 480 L756.9 480.5 L762.3 480.8 L767.6 481.1 L772.9 481.6 L778.1 482.4 L783.3 483.4 L788.3 484.7 L793.2 486.5 L797.7 488.8 L801.8 491.7 L805.8 494.8 L809.6 498.2 L813.4 501.6 L817.2 505.3 L820.7 509.2 L824.1 513.3 L827.4 517.4 L830.8 521.6 L834.2 525.7 L837.7 529.8 L841.2 533.9 L844.8 537.9 L848.6 541.7 L852.5 545.3 L856.7 548.5 L861.1 551.3 L865.6 553.9 L870.2 556.2 L874.9 558.5 L879.6 560.6 L884.5 562.4 L889.5 564 L894.5 565.6 L899.5 567.2 L904.6 568.7 L909.8 570.1 L914.9 571.6 L920 573.2 L925.1 575.1 L930.1 576.9 L935.1 578.9 L940.1 580.8 L945.1 582.7 L950.1 584.6 L955 586.6 L960 588.6 L964.9 590.6 L969.8 592.6"/></g><circle cx="690.7" cy="465" r="7.5" fill="url(#dot)"/><circle cx="719.2" cy="471.4" r="6.8" fill="url(#dot)"/><circle cx="755.3" cy="467.8" r="6.8" fill="url(#dot)"/><circle cx="796.3" cy="465.3" r="6" fill="url(#dot)"/><circle cx="801.7" cy="476.7" r="8.2" fill="url(#dot)"/><circle cx="853.1" cy="501.7" r="7.5" fill="url(#dot)"/><circle cx="832.7" cy="511.3" r="5.2" fill="url(#dot)"/><circle cx="840.6" cy="510.6" r="6" fill="url(#dot)"/><circle cx="882.7" cy="554.2" r="8.2" fill="url(#dot)"/><circle cx="733" cy="476" r="5.2" fill="url(#dot)"/>
<path d="M263.5 590.5V598.3A46.5 21.5 0 0 0 356.5 598.3V590.5Z" fill="#b4b7bd"/><ellipse cx="310" cy="590.5" rx="46.5" ry="21.5" fill="#f6f6f6"/>
<path d="M916.5 583.5V593A47 21.5 0 0 0 1010.5 593V583.5Z" fill="#b4b7bd"/><ellipse cx="963.5" cy="583.5" rx="47" ry="21.5" fill="#f6f6f6"/>
<linearGradient id="gtl" gradientUnits="userSpaceOnUse" x1="195" y1="211" x2="640" y2="430"><stop offset="0" stop-color="#aef7ea" stop-opacity="0.14"/><stop offset="0.042" stop-color="#a5f5e7" stop-opacity="0.2"/><stop offset="0.052" stop-color="#8ff0df" stop-opacity="0.6"/><stop offset="0.17" stop-color="#6fe3d2" stop-opacity="0.75"/><stop offset="0.3" stop-color="#4fd3c2" stop-opacity="0.9"/><stop offset="0.42" stop-color="#3dc1b4" stop-opacity="1"/><stop offset="0.8" stop-color="#3bbfb3" stop-opacity="1"/><stop offset="1" stop-color="#72eedc" stop-opacity="1"/></linearGradient><path d="M195 211 L202.2 207.9 L209.3 204.9 L216.5 201.9 L223.7 198.9 L231 196 L238.3 193.2 L245.5 190.4 L252.9 187.8 L260.4 185.8 L268.2 184.8 L275.9 184.8 L283.7 186 L291.1 188.2 L298 191.8 L304.4 196.3 L310 201.7 L315.3 207.4 L320.6 213.1 L326.3 218.5 L332.3 223.5 L338.8 227.7 L345.8 231.2 L352.9 234.4 L360.1 237.3 L367.5 239.7 L375.1 241.7 L382.6 243.7 L390.2 245.4 L397.8 247 L405.5 248.4 L413.3 249.4 L420.7 251.5 L427.6 255.1 L434.1 259.5 L440.3 264.3 L446.4 269.1 L452.6 273.9 L458 279.4 L462.9 285.5 L467.5 291.8 L471.9 298.2 L476.3 304.7 L480.7 311.1 L485.2 317.5 L489.5 324 L493.9 330.4 L498.3 336.8 L502.9 343.2 L507.7 349.3 L512.7 355.2 L517.5 361.4 L522.1 367.7 L527.9 372.8 L534.5 377.1 L541.4 380.6 L548.7 383.5 L556.1 385.8 L563.8 387.3 L571.5 388.5 L579.2 389.2 L587 390 L594.7 391.3 L602.3 393 L609.7 395.5 L616.8 398.6 L623.9 401.8 L631 405.2 L638 408.6 L645 412 L630 450 L622.6 448.1 L615.3 446.2 L607.9 444.3 L600.6 442.2 L593.5 439.7 L586.4 436.9 L579.4 434 L572.4 430.9 L565.3 428.2 L558.2 425.7 L550.9 423.6 L543.4 421.9 L536 420.7 L528.4 419.8 L520.8 419.3 L513.2 418.8 L505.7 418.4 L498.1 418.1 L490.5 417.8 L482.9 417.1 L475.4 416.2 L468 414.4 L460.8 411.9 L454 408.7 L447.4 404.9 L441.1 400.5 L435.5 395.5 L430.5 389.7 L425.8 383.8 L421 377.9 L415.4 372.8 L409.7 367.8 L405.2 361.7 L401 355.3 L396.9 348.9 L392.8 342.6 L388.4 336.3 L384 330.2 L379.4 324.1 L374.7 318.1 L369.6 312.6 L363.7 307.8 L356.9 304.4 L349.5 302.5 L342.1 301.1 L334.5 300.3 L326.9 299.8 L319.4 299.1 L311.8 298.1 L304.4 296.7 L297 294.9 L289.7 292.9 L282.4 290.9 L275.1 288.6 L267.9 286.1 L260.9 283.2 L254.2 279.6 L248.3 274.9 L242.6 269.8 L237.5 264.2 L232.7 258.3 L228.2 252.2 L223.9 246 L219.8 239.5 L215.7 233.1 L211.2 227 L206 221.4 L200.6 216.2 L195 211Z" fill="url(#gtl)" fill-opacity="0.45"/><path d="M195 211 L202 208.9 L208.9 206.9 L215.9 204.9 L222.8 203 L229.6 201.2 L236.5 199.5 L243.5 197.8 L250.5 196.3 L257.7 195.2 L265.1 195 L272.6 195.6 L280.1 197.2 L287.5 199.6 L294.4 203.1 L300.9 207.4 L306.7 212.4 L312.2 217.7 L317.8 222.9 L323.6 227.8 L329.8 232.4 L336.5 236.2 L343.5 239.5 L350.7 242.3 L358 244.9 L365.4 247.2 L372.9 249.2 L380.3 251.4 L387.7 253.5 L395.1 255.6 L402.4 257.5 L409.7 259.1 L416.9 261.7 L423.5 265.6 L429.6 270.3 L435.5 275.2 L441.5 280.2 L447.4 285.1 L452.9 290.6 L457.9 296.6 L462.5 302.8 L466.9 309.2 L471.4 315.6 L476 321.8 L480.6 328 L485.3 334.1 L489.9 340.2 L494.7 346.1 L499.6 351.9 L504.7 357.5 L510.1 362.8 L515.1 368.2 L520.1 373.8 L526.2 378.3 L532.8 382.1 L539.9 385.3 L547.1 387.9 L554.6 390.1 L562.2 391.7 L569.9 393 L577.6 393.9 L585.2 395 L592.9 396.4 L600.4 398.3 L607.7 400.8 L614.9 403.8 L622 406.9 L629.1 410.1 L636.1 413.3 L643.2 416.6 L631.5 446.2 L624.2 444.2 L616.8 442.1 L609.5 440 L602.3 437.8 L595.1 435.3 L588 432.5 L580.9 429.7 L573.9 426.9 L566.7 424.3 L559.5 422 L552.2 419.9 L544.7 418.3 L537.2 417 L529.7 415.9 L522.2 415 L514.7 414.2 L507.3 413.3 L500 412.4 L492.7 411.5 L485.4 410.3 L478.1 408.9 L471 406.7 L464.1 403.7 L457.5 400.2 L451.2 396.1 L445.1 391.6 L439.6 386.4 L434.6 380.6 L430 374.6 L425.2 368.6 L419.7 363.4 L414 358.4 L409.3 352.4 L404.9 346.2 L400.6 340 L396.2 333.8 L391.7 327.8 L386.9 322.1 L382 316.5 L377 311 L371.6 305.8 L365.6 301.4 L358.7 298.1 L351.3 296.2 L343.9 294.7 L336.4 293.7 L328.8 292.9 L321.3 292 L313.9 290.7 L306.6 288.8 L299.4 286.7 L292.2 284.4 L285.1 281.9 L278 279.4 L270.9 276.7 L263.9 273.7 L257.2 270.2 L251 265.9 L245.2 261.3 L239.8 256.3 L234.8 251.2 L229.9 246 L225.3 240.7 L220.9 235.2 L216.5 229.7 L211.7 224.5 L206.4 219.8 L200.7 215.4 L195 211Z" fill="url(#gtl)" fill-opacity="0.36"/><path d="M195 211 L201.8 210 L208.5 209 L215.2 208.1 L221.7 207.4 L228.2 206.9 L234.7 206.4 L241.2 205.8 L247.9 205.4 L254.7 205.4 L261.8 206 L269 207.4 L276.3 209.4 L283.6 211.9 L290.5 215.4 L297 219.4 L303.1 224 L308.9 228.8 L314.7 233.6 L320.8 238 L327.2 242.1 L334 245.5 L341 248.4 L348.3 250.9 L355.6 253.2 L363 255.4 L370.5 257.4 L377.9 259.7 L385.1 262.2 L392.1 264.8 L399 267.3 L405.9 269.6 L412.7 272.7 L418.9 277 L424.8 281.9 L430.4 287 L436.1 292.2 L441.8 297.3 L447.4 302.7 L452.4 308.6 L457.1 314.8 L461.6 321.1 L466.1 327.4 L470.8 333.4 L475.7 339.3 L480.6 345.1 L485.6 350.8 L490.7 356.2 L496 361.4 L501.5 366.3 L507.2 370.9 L512.6 375.6 L518 380.4 L524.3 384.3 L531.1 387.6 L538.2 390.4 L545.5 392.8 L553 394.8 L560.5 396.4 L568.1 397.8 L575.8 399 L583.3 400.3 L590.9 402 L598.3 404 L605.6 406.6 L612.8 409.5 L619.9 412.4 L627.1 415.4 L634.2 418.5 L641.2 421.5 L633 442.4 L625.7 440.2 L618.4 438 L611.1 435.8 L603.9 433.5 L596.7 430.9 L589.6 428.1 L582.5 425.4 L575.3 422.8 L568.1 420.4 L560.8 418.3 L553.4 416.3 L546 414.7 L538.5 413.3 L531 412 L523.6 410.8 L516.2 409.6 L508.9 408.3 L502 406.8 L494.9 405.3 L487.9 403.6 L480.9 401.6 L474.1 398.9 L467.4 395.6 L461.1 391.7 L454.9 387.4 L449.1 382.6 L443.6 377.3 L438.8 371.4 L434.1 365.4 L429.4 359.4 L424 354.1 L418.3 349 L413.4 343.2 L408.9 337.1 L404.3 331.1 L399.7 325.1 L394.9 319.4 L389.8 314 L384.6 308.9 L379.3 303.9 L373.7 299.1 L367.5 295 L360.5 291.9 L353.1 289.9 L345.7 288.3 L338.2 287.1 L330.7 286.1 L323.3 284.8 L315.9 283.2 L308.8 281 L301.7 278.5 L294.8 275.8 L287.9 273 L281 270.1 L273.9 267.2 L266.9 264.2 L260.1 260.8 L253.8 256.9 L247.8 252.8 L242.1 248.5 L236.8 244.2 L231.6 239.8 L226.7 235.4 L222 230.8 L217.3 226.3 L212.3 222 L206.7 218.1 L200.9 214.5 L195 211Z" fill="url(#gtl)" fill-opacity="0.74"/><g fill="none" stroke="url(#gtl)" stroke-width="0.8" stroke-opacity="0.4"><path d="M195 211 L202.2 207.9 L209.3 204.9 L216.5 201.9 L223.7 198.9 L231 196 L238.3 193.2 L245.5 190.4 L252.9 187.8 L260.4 185.8 L268.2 184.8 L275.9 184.8 L283.7 186 L291.1 188.2 L298 191.8 L304.4 196.3 L310 201.7 L315.3 207.4 L320.6 213.1 L326.3 218.5 L332.3 223.5 L338.8 227.7 L345.8 231.2 L352.9 234.4 L360.1 237.3 L367.5 239.7 L375.1 241.7 L382.6 243.7 L390.2 245.4 L397.8 247 L405.5 248.4 L413.3 249.4 L420.7 251.5 L427.6 255.1 L434.1 259.5 L440.3 264.3 L446.4 269.1 L452.6 273.9 L458 279.4 L462.9 285.5 L467.5 291.8 L471.9 298.2 L476.3 304.7 L480.7 311.1 L485.2 317.5 L489.5 324 L493.9 330.4 L498.3 336.8 L502.9 343.2 L507.7 349.3 L512.7 355.2 L517.5 361.4 L522.1 367.7 L527.9 372.8 L534.5 377.1 L541.4 380.6 L548.7 383.5 L556.1 385.8 L563.8 387.3 L571.5 388.5 L579.2 389.2 L587 390 L594.7 391.3 L602.3 393 L609.7 395.5 L616.8 398.6 L623.9 401.8 L631 405.2 L638 408.6 L645 412"/><path d="M195 211 L200.6 216.2 L206 221.4 L211.2 227 L215.7 233.1 L219.8 239.5 L223.9 246 L228.2 252.2 L232.7 258.3 L237.5 264.2 L242.6 269.8 L248.3 274.9 L254.2 279.6 L260.9 283.2 L267.9 286.1 L275.1 288.6 L282.4 290.9 L289.7 292.9 L297 294.9 L304.4 296.7 L311.8 298.1 L319.4 299.1 L326.9 299.8 L334.5 300.3 L342.1 301.1 L349.5 302.5 L356.9 304.4 L363.7 307.8 L369.6 312.6 L374.7 318.1 L379.4 324.1 L384 330.2 L388.4 336.3 L392.8 342.6 L396.9 348.9 L401 355.3 L405.2 361.7 L409.7 367.8 L415.4 372.8 L421 377.9 L425.8 383.8 L430.5 389.7 L435.5 395.5 L441.1 400.5 L447.4 404.9 L454 408.7 L460.8 411.9 L468 414.4 L475.4 416.2 L482.9 417.1 L490.5 417.8 L498.1 418.1 L505.7 418.4 L513.2 418.8 L520.8 419.3 L528.4 419.8 L536 420.7 L543.4 421.9 L550.9 423.6 L558.2 425.7 L565.3 428.2 L572.4 430.9 L579.4 434 L586.4 436.9 L593.5 439.7 L600.6 442.2 L607.9 444.3 L615.3 446.2 L622.6 448.1 L630 450"/></g><g fill="none" stroke="#b5fff3" stroke-width="0.7" stroke-opacity="0.36"><path d="M195 211 L201.7 210.4 L208.4 209.9 L214.9 209.4 L221.3 209.1 L227.6 209.1 L233.9 209 L240.3 208.9 L246.9 209 L253.6 209.3 L260.5 210.3 L267.6 211.9 L274.8 214 L282.1 216.7 L289 220.1 L295.6 224 L301.7 228.4 L307.6 233.1 L313.5 237.6 L319.7 241.9 L326.1 245.9 L333 249.1 L340.1 251.8 L347.4 254.2 L354.7 256.4 L362.1 258.5 L369.6 260.5 L376.9 262.9 L384 265.6 L390.9 268.4 L397.7 271.1 L404.5 273.6 L411.1 276.9 L417.2 281.4 L422.9 286.4 L428.5 291.6 L434 296.9 L439.7 302 L445.3 307.4 L450.3 313.2 L455 319.4 L459.5 325.7 L464.1 331.9 L468.9 337.9 L473.8 343.7 L478.9 349.4 L484 354.9 L489.2 360.1 L494.6 365.1 L500.2 369.7 L506.1 374 L511.7 378.4 L517.1 382.9 L523.5 386.6 L530.4 389.7 L537.5 392.4 L544.9 394.6 L552.3 396.6 L559.9 398.2 L567.5 399.7 L575.1 400.9 L582.6 402.3 L590.1 404.1 L597.5 406.2 L604.8 408.8 L612 411.7 L619.1 414.6 L626.3 417.5 L633.4 420.4 L640.5 423.4"/><path d="M195 211 L201.6 211.1 L208.1 211.2 L214.5 211.4 L220.7 211.9 L226.7 212.5 L232.8 213.2 L238.9 213.9 L245.2 214.6 L251.7 215.6 L258.5 217.1 L265.4 219.1 L272.5 221.5 L279.6 224.3 L286.6 227.6 L293.2 231.4 L299.5 235.6 L305.5 239.9 L311.6 244.2 L318 248.2 L324.5 251.8 L331.4 254.8 L338.6 257.3 L345.9 259.5 L353.3 261.5 L360.7 263.5 L368.2 265.5 L375.4 268 L382.4 270.9 L389.1 274.1 L395.6 277.1 L402.1 280.1 L408.5 283.7 L414.4 288.4 L419.9 293.5 L425.3 298.9 L430.7 304.3 L436.3 309.5 L441.8 314.9 L447 320.6 L451.6 326.7 L456.2 333 L460.8 339.2 L465.7 345.1 L470.8 350.7 L476 356.1 L481.3 361.4 L486.8 366.3 L492.4 370.9 L498.3 375.1 L504.3 379 L510.1 383 L515.8 387 L522.4 390.3 L529.3 393.1 L536.5 395.5 L543.8 397.6 L551.3 399.5 L558.9 401.1 L566.4 402.6 L573.9 404 L581.5 405.6 L588.9 407.5 L596.3 409.7 L603.5 412.3 L610.7 415.2 L617.9 418 L625 420.8 L632.2 423.6 L639.3 426.4"/><path d="M195 211 L201.4 211.8 L207.8 212.7 L214 213.7 L220 215 L225.7 216.5 L231.5 218 L237.4 219.4 L243.4 220.9 L249.7 222.6 L256.2 224.7 L262.9 227.2 L269.8 230 L276.9 232.8 L283.9 236.1 L290.6 239.7 L297 243.6 L303.2 247.6 L309.5 251.5 L316 255.2 L322.7 258.6 L329.7 261.2 L336.9 263.4 L344.2 265.4 L351.6 267.3 L359.1 269.2 L366.5 271.2 L373.7 273.8 L380.5 277 L387 280.5 L393.3 284 L399.5 287.4 L405.6 291.4 L411.2 296.2 L416.6 301.6 L421.8 307.1 L427 312.6 L432.4 318 L438 323.3 L443.2 328.9 L447.9 335 L452.4 341.2 L457.1 347.3 L462.1 353.1 L467.4 358.6 L472.8 363.8 L478.4 368.7 L484.1 373.3 L489.9 377.5 L496 381.2 L502.3 384.6 L508.4 388.1 L514.3 391.6 L521 394.4 L528.1 396.9 L535.3 399 L542.7 401 L550.2 402.8 L557.7 404.4 L565.2 406 L572.7 407.6 L580.1 409.3 L587.5 411.3 L594.8 413.6 L602 416.3 L609.2 419.1 L616.4 421.8 L623.6 424.5 L630.8 427.2 L638 429.9"/><path d="M195 211 L201.3 212.5 L207.5 214 L213.6 215.7 L219.3 217.7 L224.8 219.9 L230.3 222.2 L236 224.4 L241.8 226.6 L247.8 228.9 L254.1 231.5 L260.7 234.4 L267.5 237.4 L274.5 240.4 L281.5 243.7 L288.3 247.1 L294.8 250.7 L301.2 254.5 L307.6 258.1 L314.2 261.5 L321 264.5 L328.1 267 L335.4 268.9 L342.8 270.7 L350.2 272.4 L357.6 274.2 L365.1 276.2 L372.2 278.9 L378.9 282.3 L385.1 286.1 L391.2 290 L397.1 293.8 L403 298.1 L408.5 303.2 L413.6 308.7 L418.7 314.4 L423.7 320 L429 325.5 L434.6 330.7 L439.9 336.3 L444.6 342.4 L449.1 348.6 L453.9 354.6 L459 360.3 L464.4 365.5 L470 370.5 L475.7 375.2 L481.6 379.5 L487.7 383.3 L494.1 386.6 L500.5 389.6 L506.8 392.6 L513 395.6 L519.9 398.1 L527 400.3 L534.3 402.2 L541.7 403.9 L549.2 405.7 L556.7 407.3 L564.2 409 L571.6 410.7 L579 412.5 L586.3 414.8 L593.6 417.1 L600.8 419.8 L607.9 422.6 L615.1 425.2 L622.3 427.8 L629.5 430.3 L636.8 432.9"/><path d="M195 211 L201.1 213.2 L207.2 215.5 L213.1 218 L218.6 220.8 L223.8 223.9 L229 227 L234.4 230 L240 232.9 L245.8 236 L251.8 239.2 L258.2 242.5 L264.8 245.9 L271.8 249 L278.8 252.2 L285.6 255.4 L292.3 258.7 L298.9 262.2 L305.5 265.4 L312.3 268.5 L319.2 271.3 L326.4 273.4 L333.7 275.1 L341.1 276.6 L348.6 278.1 L356 279.9 L363.4 281.8 L370.5 284.7 L377 288.4 L383 292.5 L388.8 296.8 L394.5 301.1 L400.1 305.8 L405.3 311.1 L410.3 316.8 L415.1 322.6 L420 328.3 L425.2 334 L430.8 339.1 L436.1 344.6 L440.8 350.7 L445.4 356.8 L450.2 362.8 L455.4 368.3 L461 373.4 L466.8 378.2 L472.7 382.6 L478.9 386.5 L485.3 389.9 L491.8 392.7 L498.5 395.3 L505.1 397.7 L511.6 400.2 L518.5 402.2 L525.7 404.1 L533.1 405.7 L540.5 407.3 L548 408.9 L555.5 410.5 L563 412.3 L570.3 414.2 L577.7 416.2 L584.9 418.6 L592.1 421.1 L599.3 423.8 L606.5 426.5 L613.7 429 L620.9 431.5 L628.2 433.9 L635.4 436.3"/><path d="M195 211 L201 213.9 L207 216.8 L212.7 220 L218 223.5 L222.9 227.3 L227.9 231.2 L233 234.9 L238.4 238.5 L243.9 242.2 L249.8 246 L256 249.7 L262.5 253.4 L269.4 256.6 L276.3 259.7 L283.3 262.8 L290.1 265.9 L296.8 269 L303.6 272 L310.5 274.8 L317.6 277.2 L324.8 279.1 L332.2 280.6 L339.7 281.8 L347.1 283.2 L354.6 284.9 L362 286.9 L369 289.8 L375.3 293.8 L381.2 298.2 L386.7 302.9 L392.2 307.6 L397.5 312.6 L402.5 318.1 L407.3 323.9 L412 329.8 L416.7 335.7 L421.7 341.5 L427.4 346.6 L432.8 352 L437.5 358 L442.1 364.1 L446.9 370 L452.2 375.5 L458 380.4 L463.9 384.9 L470.1 389.1 L476.5 392.7 L483.1 395.7 L489.8 398.1 L496.7 400.3 L503.5 402.2 L510.3 404.2 L517.4 405.9 L524.7 407.4 L532.1 408.9 L539.5 410.3 L547 411.8 L554.5 413.4 L561.9 415.3 L569.2 417.3 L576.5 419.5 L583.7 422 L590.9 424.6 L598 427.3 L605.2 430 L612.4 432.4 L619.7 434.7 L626.9 437 L634.2 439.4"/></g><circle cx="292.5" cy="231" r="7.5" fill="url(#dot)"/><circle cx="310" cy="248.5" r="8.2" fill="url(#dot)"/><circle cx="359.5" cy="268" r="7.5" fill="url(#dot)"/><circle cx="378" cy="268" r="8.2" fill="url(#dot)"/><circle cx="383" cy="259" r="6.8" fill="url(#dot)"/><circle cx="429" cy="333" r="6" fill="url(#dot)"/><circle cx="438" cy="331" r="6" fill="url(#dot)"/><circle cx="463" cy="330" r="7.5" fill="url(#dot)"/><circle cx="447" cy="347" r="6.8" fill="url(#dot)"/><circle cx="475" cy="364" r="6" fill="url(#dot)"/><circle cx="471" cy="371" r="5.2" fill="url(#dot)"/><circle cx="483" cy="374" r="6.8" fill="url(#dot)"/><circle cx="513.5" cy="393.5" r="9.8" fill="url(#dot)"/><circle cx="546" cy="406" r="6.8" fill="url(#dot)"/><circle cx="562" cy="397" r="6" fill="url(#dot)"/><circle cx="579" cy="418" r="6.8" fill="url(#dot)"/>
<g fill="none" stroke="#eefaf8" stroke-width="0.8">
<path d="M609.2 387.1 Q616 383 624 383L656 383 Q664 383 670.8 387.1L747.2 433.4 Q754 437.5 754 440.5L754 440.5 Q754 443.5 747.2 447.6L670.8 493.9 Q664 498 656 498L624 498 Q616 498 609.2 493.9L532.8 447.6 Q526 443.5 526 440.5L526 440.5 Q526 437.5 532.8 433.4Z" stroke-opacity="0.9"/>
<path d="M612 391.1 Q618 387.5 625 387.5L655 387.5 Q662 387.5 668 391.1L739 433.9 Q745 437.5 745 440.5L745 440.5 Q745 443.5 739 447.1L668 489.9 Q662 493.5 655 493.5L625 493.5 Q618 493.5 612 489.9L541 447.1 Q535 443.5 535 440.5L535 440.5 Q535 437.5 541 433.9Z" stroke-opacity="0.8"/>
<path d="M614.9 395.1 Q620 392 626 392L654 392 Q660 392 665.1 395.1L730.9 434.4 Q736 437.5 736 440.5L736 440.5 Q736 443.5 730.9 446.6L665.1 485.9 Q660 489 654 489L626 489 Q620 489 614.9 485.9L549.1 446.6 Q544 443.5 544 440.5L544 440.5 Q544 437.5 549.1 434.4Z" stroke-opacity="0.6"/>
<circle cx="538.8" cy="425" r="1.2" fill="#fff" stroke="none"/><circle cx="741.3" cy="423.8" r="1.2" fill="#fff" stroke="none"/><path d="M612 386.5L620 383.5M668 383.5L676 386.5" stroke-opacity="0.9"/>
</g>
<ellipse cx="640" cy="440" rx="75" ry="34" fill="#7ff3e0" opacity="0.35" filter="url(#blur8)"/>
<path d="M581 430V443.5A59 26 0 0 0 699 443.5V430Z" fill="#4fcbbb"/>
<ellipse cx="640" cy="430" rx="59" ry="26" fill="#86efdd"/>
<ellipse cx="640" cy="430.5" rx="47.5" ry="20" fill="url(#dish)"/>
<path d="M592.5 430.5A47.5 20 0 0 1 687.5 430.5A47.5 18 0 0 0 592.5 430.5Z" fill="#5fd9c6" opacity="0.7"/>
<ellipse cx="640" cy="434" rx="5" ry="2.2" fill="#f2fffc"/>
<path d="M640.4 355V434" stroke="#ecfffb" stroke-width="1.1" fill="none"/>
<g><path d="M548.7 146 A91.5 32.5 0 0 1 731.7 146 L731.7 146 L731.8 150 L731.9 153 L731.1 157 L730.1 161 L728.2 166 L726.2 171 L707.7 200 L682.2 240 L654.7 283 Q640.2 285.5 625.7 283 L625.7 283 L598.2 240 L572.7 200 L554.2 171 L552.2 166 L550.3 161 L549.3 157 L548.5 153 L548.6 150 L548.7 146Z" fill="url(#funnelfill)"/><ellipse cx="640.2" cy="176" rx="81.1" ry="29.5" fill="#3fd0be" opacity="0.16"/><ellipse cx="640.2" cy="197" rx="69.8" ry="25.1" fill="#6cebd8" opacity="0.2"/><g fill="none" stroke="#63e3d1" stroke-width="0.8"><ellipse cx="640.2" cy="146" rx="91.5" ry="32.5" stroke-opacity="0.9"/><ellipse cx="640.2" cy="154" rx="90.7" ry="32.2" stroke-opacity="0.55"/><ellipse cx="640.2" cy="163" rx="87.6" ry="31.1" stroke-opacity="0.55"/><ellipse cx="640.2" cy="172" rx="83.1" ry="29.5" stroke-opacity="0.55"/><ellipse cx="640.2" cy="181" rx="77.8" ry="27.6" stroke-opacity="0.55"/><ellipse cx="640.2" cy="190" rx="72.6" ry="25.8" stroke-opacity="0.55"/><ellipse cx="640.2" cy="199" rx="67.2" ry="23.9" stroke-opacity="0.55"/><ellipse cx="640.2" cy="208" rx="61.9" ry="22" stroke-opacity="0.55"/><ellipse cx="640.2" cy="217" rx="56.5" ry="20.1" stroke-opacity="0.55"/><ellipse cx="640.2" cy="226" rx="51.1" ry="18.1" stroke-opacity="0.55"/><ellipse cx="640.2" cy="235" rx="45.6" ry="16.2" stroke-opacity="0.55"/><ellipse cx="640.2" cy="244" rx="40.1" ry="14.2" stroke-opacity="0.55"/><ellipse cx="640.2" cy="253" rx="34.4" ry="12.2" stroke-opacity="0.55"/><ellipse cx="640.2" cy="262" rx="28.6" ry="10.2" stroke-opacity="0.55"/><ellipse cx="640.2" cy="270" rx="22.7" ry="8.1" stroke-opacity="0.55"/><ellipse cx="640.2" cy="277" rx="16.5" ry="5.9" stroke-opacity="0.55"/><ellipse cx="640.2" cy="284" rx="13" ry="4.6" stroke-opacity="0.55"/><path d="M730.7 151.1 L730.5 155.1 L730 158 L729 162 L727.5 165.9 L725.5 170.8 L722.8 175.6 L719.4 181.5 L715.9 187.3 L712.4 193.1 L708.9 198.9 L705.4 204.7 L701.9 210.5 L698.4 216.3 L694.8 222.1 L691.3 227.9 L687.7 233.7 L684.1 239.5 L680.4 245.3 L676.7 251.1 L672.9 256.8 L669.1 262.6 L665 268.4 L660.3 274.1 L654.5 279.8 L653 285.2" stroke-opacity="0.5"/><path d="M721.8 160.8 L721.7 164.7 L721.2 167.6 L720.3 171.5 L718.9 175.2 L717.2 179.9 L714.7 184.5 L711.6 189.9 L708.5 195.4 L705.4 200.8 L702.2 206.2 L699 211.6 L695.9 217.1 L692.7 222.5 L689.5 227.9 L686.3 233.3 L683 238.7 L679.8 244.2 L676.5 249.6 L673.1 255 L669.7 260.3 L666.3 265.7 L662.6 271 L658.3 276.3 L653.1 281.3 L651.8 286.6" stroke-opacity="0.5"/><path d="M705 169 L704.9 173 L704.5 175.8 L703.8 179.6 L702.7 183.2 L701.3 187.7 L699.3 192 L696.9 197.1 L694.4 202.2 L691.9 207.4 L689.4 212.5 L686.9 217.6 L684.4 222.7 L681.9 227.8 L679.3 232.9 L676.7 238 L674.2 243.1 L671.6 248.2 L669 253.2 L666.3 258.3 L663.6 263.3 L660.9 268.3 L658 273.3 L654.6 278.1 L650.5 282.6 L649.4 287.8" stroke-opacity="0.5"/><path d="M681.8 175 L681.7 178.9 L681.5 181.7 L681 185.4 L680.3 188.9 L679.4 193.3 L678.2 197.5 L676.6 202.3 L675 207.2 L673.4 212.1 L671.8 217 L670.2 221.9 L668.6 226.8 L667 231.6 L665.3 236.5 L663.7 241.3 L662 246.2 L660.4 251.1 L658.7 255.9 L657 260.7 L655.2 265.5 L653.5 270.3 L651.6 274.9 L649.4 279.4 L646.8 283.6 L646.1 288.6" stroke-opacity="0.5"/><path d="M654.5 178.1 L654.5 182.1 L654.4 184.9 L654.3 188.5 L654 192 L653.7 196.3 L653.3 200.3 L652.7 205.1 L652.2 209.9 L651.6 214.6 L651.1 219.4 L650.5 224.2 L650 228.9 L649.4 233.7 L648.9 238.4 L648.3 243.1 L647.7 247.8 L647.1 252.6 L646.6 257.3 L646 262 L645.4 266.6 L644.8 271.3 L644.1 275.8 L643.4 280.1 L642.5 284.1 L642.2 289.1" stroke-opacity="0.5"/><path d="M625.9 178.1 L625.9 182.1 L626 184.9 L626.1 188.5 L626.4 192 L626.7 196.3 L627.1 200.3 L627.7 205.1 L628.2 209.9 L628.8 214.6 L629.3 219.4 L629.9 224.2 L630.4 228.9 L631 233.7 L631.5 238.4 L632.1 243.1 L632.7 247.8 L633.3 252.6 L633.8 257.3 L634.4 262 L635 266.6 L635.6 271.3 L636.3 275.8 L637 280.1 L637.9 284.1 L638.2 289.1" stroke-opacity="0.5"/><path d="M598.6 175 L598.7 178.9 L598.9 181.7 L599.4 185.4 L600.1 188.9 L601 193.3 L602.2 197.5 L603.8 202.3 L605.4 207.2 L607 212.1 L608.6 217 L610.2 221.9 L611.8 226.8 L613.4 231.6 L615.1 236.5 L616.7 241.3 L618.4 246.2 L620 251.1 L621.7 255.9 L623.4 260.7 L625.2 265.5 L626.9 270.3 L628.8 274.9 L631 279.4 L633.6 283.6 L634.3 288.6" stroke-opacity="0.5"/><path d="M575.4 169 L575.5 173 L575.9 175.8 L576.6 179.6 L577.7 183.2 L579.1 187.7 L581.1 192 L583.5 197.1 L586 202.2 L588.5 207.4 L591 212.5 L593.5 217.6 L596 222.7 L598.5 227.8 L601.1 232.9 L603.7 238 L606.2 243.1 L608.8 248.2 L611.4 253.2 L614.1 258.3 L616.8 263.3 L619.5 268.3 L622.4 273.3 L625.8 278.1 L629.9 282.6 L631 287.8" stroke-opacity="0.5"/><path d="M558.6 160.8 L558.7 164.7 L559.2 167.6 L560.1 171.5 L561.5 175.2 L563.2 179.9 L565.7 184.5 L568.8 189.9 L571.9 195.4 L575 200.8 L578.2 206.2 L581.4 211.6 L584.5 217.1 L587.7 222.5 L590.9 227.9 L594.1 233.3 L597.4 238.7 L600.6 244.2 L603.9 249.6 L607.3 255 L610.7 260.3 L614.1 265.7 L617.8 271 L622.1 276.3 L627.3 281.3 L628.6 286.6" stroke-opacity="0.5"/><path d="M549.7 151.1 L549.9 155.1 L550.4 158 L551.4 162 L552.9 165.9 L554.9 170.8 L557.6 175.6 L561 181.5 L564.5 187.3 L568 193.1 L571.5 198.9 L575 204.7 L578.5 210.5 L582 216.3 L585.6 222.1 L589.1 227.9 L592.7 233.7 L596.3 239.5 L600 245.3 L603.7 251.1 L607.5 256.8 L611.3 262.6 L615.4 268.4 L620.1 274.1 L625.9 279.8 L627.4 285.2" stroke-opacity="0.5"/><path d="M549.7 140.9 L549.9 144.9 L550.4 148 L551.4 152 L552.9 156.1 L554.9 161.2 L557.6 166.4 L561 172.5 L564.5 178.7 L568 184.9 L571.5 191.1 L575 197.3 L578.5 203.5 L582 209.7 L585.6 215.9 L589.1 222.1 L592.7 228.3 L596.3 234.5 L600 240.7 L603.7 246.9 L607.5 253.2 L611.3 259.4 L615.4 265.6 L620.1 271.9 L625.9 278.2 L627.4 283.8" stroke-opacity="0.38"/><path d="M558.6 131.2 L558.7 135.3 L559.2 138.4 L560.1 142.5 L561.5 146.8 L563.2 152.1 L565.7 157.5 L568.8 164.1 L571.9 170.6 L575 177.2 L578.2 183.8 L581.4 190.4 L584.5 196.9 L587.7 203.5 L590.9 210.1 L594.1 216.7 L597.4 223.3 L600.6 229.8 L603.9 236.4 L607.3 243 L610.7 249.7 L614.1 256.3 L617.8 263 L622.1 269.7 L627.3 276.7 L628.6 282.4" stroke-opacity="0.38"/><path d="M575.4 123 L575.5 127 L575.9 130.2 L576.6 134.4 L577.7 138.8 L579.1 144.3 L581.1 150 L583.5 156.9 L586 163.8 L588.5 170.6 L591 177.5 L593.5 184.4 L596 191.3 L598.5 198.2 L601.1 205.1 L603.7 212 L606.2 218.9 L608.8 225.8 L611.4 232.8 L614.1 239.7 L616.8 246.7 L619.5 253.7 L622.4 260.7 L625.8 267.9 L629.9 275.4 L631 281.2" stroke-opacity="0.38"/><path d="M598.6 117 L598.7 121.1 L598.9 124.3 L599.4 128.6 L600.1 133.1 L601 138.7 L602.2 144.5 L603.8 151.7 L605.4 158.8 L607 165.9 L608.6 173 L610.2 180.1 L611.8 187.2 L613.4 194.4 L615.1 201.5 L616.7 208.7 L618.4 215.8 L620 222.9 L621.7 230.1 L623.4 237.3 L625.2 244.5 L626.9 251.7 L628.8 259.1 L631 266.6 L633.6 274.4 L634.3 280.4" stroke-opacity="0.38"/><path d="M625.9 113.9 L625.9 117.9 L626 121.1 L626.1 125.5 L626.4 130 L626.7 135.7 L627.1 141.7 L627.7 148.9 L628.2 156.1 L628.8 163.4 L629.3 170.6 L629.9 177.8 L630.4 185.1 L631 192.3 L631.5 199.6 L632.1 206.9 L632.7 214.2 L633.3 221.4 L633.8 228.7 L634.4 236 L635 243.4 L635.6 250.7 L636.3 258.2 L637 265.9 L637.9 273.9 L638.2 279.9" stroke-opacity="0.38"/><path d="M654.5 113.9 L654.5 117.9 L654.4 121.1 L654.3 125.5 L654 130 L653.7 135.7 L653.3 141.7 L652.7 148.9 L652.2 156.1 L651.6 163.4 L651.1 170.6 L650.5 177.8 L650 185.1 L649.4 192.3 L648.9 199.6 L648.3 206.9 L647.7 214.2 L647.1 221.4 L646.6 228.7 L646 236 L645.4 243.4 L644.8 250.7 L644.1 258.2 L643.4 265.9 L642.5 273.9 L642.2 279.9" stroke-opacity="0.38"/><path d="M681.8 117 L681.7 121.1 L681.5 124.3 L681 128.6 L680.3 133.1 L679.4 138.7 L678.2 144.5 L676.6 151.7 L675 158.8 L673.4 165.9 L671.8 173 L670.2 180.1 L668.6 187.2 L667 194.4 L665.3 201.5 L663.7 208.7 L662 215.8 L660.4 222.9 L658.7 230.1 L657 237.3 L655.2 244.5 L653.5 251.7 L651.6 259.1 L649.4 266.6 L646.8 274.4 L646.1 280.4" stroke-opacity="0.38"/><path d="M705 123 L704.9 127 L704.5 130.2 L703.8 134.4 L702.7 138.8 L701.3 144.3 L699.3 150 L696.9 156.9 L694.4 163.8 L691.9 170.6 L689.4 177.5 L686.9 184.4 L684.4 191.3 L681.9 198.2 L679.3 205.1 L676.7 212 L674.2 218.9 L671.6 225.8 L669 232.8 L666.3 239.7 L663.6 246.7 L660.9 253.7 L658 260.7 L654.6 267.9 L650.5 275.4 L649.4 281.2" stroke-opacity="0.38"/><path d="M721.8 131.2 L721.7 135.3 L721.2 138.4 L720.3 142.5 L718.9 146.8 L717.2 152.1 L714.7 157.5 L711.6 164.1 L708.5 170.6 L705.4 177.2 L702.2 183.8 L699 190.4 L695.9 196.9 L692.7 203.5 L689.5 210.1 L686.3 216.7 L683 223.3 L679.8 229.8 L676.5 236.4 L673.1 243 L669.7 249.7 L666.3 256.3 L662.6 263 L658.3 269.7 L653.1 276.7 L651.8 282.4" stroke-opacity="0.38"/><path d="M730.7 140.9 L730.5 144.9 L730 148 L729 152 L727.5 156.1 L725.5 161.2 L722.8 166.4 L719.4 172.5 L715.9 178.7 L712.4 184.9 L708.9 191.1 L705.4 197.3 L701.9 203.5 L698.4 209.7 L694.8 215.9 L691.3 222.1 L687.7 228.3 L684.1 234.5 L680.4 240.7 L676.7 246.9 L672.9 253.2 L669.1 259.4 L665 265.6 L660.3 271.9 L654.5 278.2 L653 283.8" stroke-opacity="0.38"/></g><g fill="none" stroke="#e4fffa" stroke-width="0.6" stroke-opacity="0.55"><path d="M576.4 205A63.8 21 0 0 0 704 205"/><path d="M582.2 214A58 19.2 0 0 0 698.2 214"/><path d="M587.9 223A52.3 17.3 0 0 0 692.5 223"/><path d="M593.6 232A46.6 15.4 0 0 0 686.8 232"/><path d="M599.4 241A40.8 13.5 0 0 0 681 241"/><path d="M605.1 250A35.1 11.6 0 0 0 675.3 250"/><path d="M610.9 259A29.3 9.7 0 0 0 669.5 259"/><path d="M616.6 268A23.6 7.8 0 0 0 663.8 268"/><path d="M621.7 276A18.5 6.1 0 0 0 658.7 276"/><path d="M586.2 213.4L629 283.9"/><path d="M599.7 217.8L631.8 284.2"/><path d="M613.2 220.4L634.6 284.4"/><path d="M626.7 221.8L637.4 284.5"/><path d="M653.7 221.8L643 284.5"/><path d="M667.2 220.4L645.8 284.4"/><path d="M680.7 217.8L648.6 284.2"/><path d="M694.2 213.4L651.4 283.9"/></g><path d="M594 238L607.2 272A33 11.9 0 0 0 673.2 272L686.4 238" fill="none" stroke="#8df3e3" stroke-width="0.9" stroke-opacity="0.8"/><path d="M602.6 252L615.2 283A25 9 0 0 0 665.2 283L677.8 252" fill="none" stroke="#8df3e3" stroke-width="0.9" stroke-opacity="0.8"/><path d="M611.6 266L623.2 292A17 6.1 0 0 0 657.2 292L668.8 266" fill="none" stroke="#8df3e3" stroke-width="0.9" stroke-opacity="0.8"/><ellipse cx="640.2" cy="268" rx="20" ry="16" fill="#8ffbe8" opacity="0.35" filter="url(#blur4)"/></g>
<path d="M640.3 100V290" stroke="#e9fffb" stroke-width="0.9" stroke-opacity="0.9" fill="none"/>
<rect x="626" y="288" width="28" height="70" rx="10" fill="#5ff0dc" opacity="0.13" filter="url(#blur4)"/>
<path d="M629 303.5Q629 308.5 640.5 309.7Q652 308.5 652 303.5" fill="none" stroke="#8df3e3" stroke-width="0.9" stroke-opacity="0.8"/>
<rect x="629" y="291.8" width="23" height="12.6" rx="3" fill="#5de5d3"/>
<rect x="629.8" y="314" width="21.2" height="15.4" rx="3" fill="#5de5d3"/>
<rect x="633.3" y="336.7" width="14.7" height="18.3" rx="3" fill="#5de5d3"/>
<rect x="565.6" y="527.8" width="149.2" height="129.8" rx="6" fill="#8b8e98"/>
<rect x="566.3" y="528.8" width="147.8" height="128.3" rx="5.3" fill="#585b67"/>
<path d="M640.2 562.1 A34.8 34.8 0 1 1 616.9 622.8" fill="none" stroke="#ffffff" stroke-width="9.6"/>
<path d="M616.9 622.8 A34.8 34.8 0 0 1 625.5 565.4" fill="none" stroke="#52cfc0" stroke-width="9.6"/>
<path d="M625.5 565.4 A34.8 34.8 0 0 1 640.2 562.1" fill="none" stroke="#48c2b3" stroke-width="9.6"/>
<path d="M640.5 596.5L660 575.5" stroke="#e6e6ea" stroke-width="0.8"/>
<text x="574.6" y="545" font-size="10.8" textLength="77" lengthAdjust="spacingAndGlyphs">Conversion Rate</text>
<text x="575.3" y="600.3" font-size="8.6">30%</text>
<text x="685.6" y="600.3" font-size="8.6">120%</text>
<text x="632" y="649.6" font-size="8.6">30%</text>
<path d="M640.3 504V528" stroke="#e8e8ec" stroke-width="1" stroke-dasharray="7 1.5" fill="none"/>
<path d="M638.6 506.5Q640.3 501 642 506.5Z" fill="#f4f4f6"/>
<g class="lb">
<text x="541.3" y="72.5" font-size="16.5" textLength="93.5" lengthAdjust="spacingAndGlyphs">Search insigh</text>
<text x="541.9" y="92.5" font-size="16.5" textLength="92.8" lengthAdjust="spacingAndGlyphs">Product Page</text>
<text x="468.8" y="285.5" font-size="16.5" textLength="70.7" lengthAdjust="spacingAndGlyphs">#36C7C0</text>
<text x="693.8" y="363.8" font-size="16.2" textLength="64.2" lengthAdjust="spacingAndGlyphs">#071A26</text>
<text x="90.3" y="393.7" font-size="16.5" textLength="61" lengthAdjust="spacingAndGlyphs">Keyword</text>
<text x="90.3" y="413.1" font-size="16.5" textLength="97.8" lengthAdjust="spacingAndGlyphs">Demand Page</text>
<text x="345.9" y="459.4" font-size="16.5" textLength="69.7" lengthAdjust="spacingAndGlyphs">#36C7C0</text>
<text x="866.7" y="458.7" font-size="16.5" textLength="70.2" lengthAdjust="spacingAndGlyphs">#36C7C0</text>
<text x="1084.4" y="393.3" font-size="16.5" textLength="77.8" lengthAdjust="spacingAndGlyphs">Conversion</text>
<text x="1085.8" y="414.2" font-size="16.8" textLength="73" lengthAdjust="spacingAndGlyphs">#FFFFFF</text>
<text x="416.3" y="623.7" font-size="16.5" textLength="98.7" lengthAdjust="spacingAndGlyphs">Traffic Growth</text>
<text x="415.5" y="646.2" font-size="16.8" textLength="73.2" lengthAdjust="spacingAndGlyphs">#071A25</text>
<text x="773.3" y="622.2" font-size="16.5" textLength="96.9" lengthAdjust="spacingAndGlyphs">Traffic Growth</text>
<text x="773.3" y="644.4" font-size="16.8" textLength="69" lengthAdjust="spacingAndGlyphs">#FFFFFF</text>
<text x="579.3" y="295" font-size="11.2" textLength="21.5" lengthAdjust="spacingAndGlyphs" class="sm">SEO</text>
<text x="680" y="295" font-size="11.2" textLength="36" lengthAdjust="spacingAndGlyphs" class="sm">Deghan</text>
<text x="553.8" y="308.4" font-size="11.2" textLength="47" lengthAdjust="spacingAndGlyphs" class="sm">Searernn</text>
<text x="680" y="308.4" font-size="11.2" textLength="40" lengthAdjust="spacingAndGlyphs" class="sm">Parnard</text>
<text x="579.3" y="321.7" font-size="11.2" textLength="21.5" lengthAdjust="spacingAndGlyphs" class="sm">SEO</text>
<text x="680" y="321.7" font-size="11.2" textLength="42" lengthAdjust="spacingAndGlyphs" class="sm">Dannand</text>
<text x="562.5" y="335.1" font-size="11.2" textLength="38.3" lengthAdjust="spacingAndGlyphs" class="sm">Product</text>
<text x="680" y="335.1" font-size="11.2" textLength="36" lengthAdjust="spacingAndGlyphs" class="sm">Signals</text>
</g>
<g fill="none" stroke="#e9eaee" stroke-width="0.9" stroke-linecap="round" stroke-linejoin="round">
<path d="M634.4 98.7Q640.3 101.5 640.3 110"/>
<path d="M504.5 294V362"/><circle cx="504.5" cy="362.5" r="1.1" fill="#fff"/>
<path d="M727.5 371V439Q727.5 442 725.8 441"/>
<path d="M188 390.3H200Q208.4 390.3 208.4 399V425"/><path d="M206.4 421.5L208.4 426L210.4 421.5" />
<path d="M381.9 468V556"/>
<path d="M902.2 467V547"/>
<path d="M1082 390.2H1067Q1057.8 390.2 1057.8 400V419"/><path d="M1055.8 416L1057.8 420.5L1059.8 416"/>
<path d="M408.8 619.2H381"/><path d="M383.5 616.8L379.3 619.2L383.5 621.6"/>
<path d="M878 617.8H903"/><path d="M904.5 619.5L908 615.5"/>
<path d="M1045.3 530V563Q1045.3 569 1040.5 569"/><path d="M1043.5 532.5L1045.3 528L1047.1 532.5"/>
<path d="M330 236V216Q330 210.5 335 208L374 189.5"/><circle cx="375.3" cy="189" r="1.6" fill="#fff"/>
<path d="M965 252V236Q965 232.5 961 230L922 206Q919 204 915 204H902"/><path d="M904.5 202L900.3 204L904.5 206"/>
<path d="M203 508.1L229 520.6Q233.3 522.8 233.5 528L234.3 553Q234.5 560 241 564.5Q247 568 249.8 572.5" stroke-opacity="0.85" stroke-width="0.8"/>
</g>
</svg>
</body></html>
